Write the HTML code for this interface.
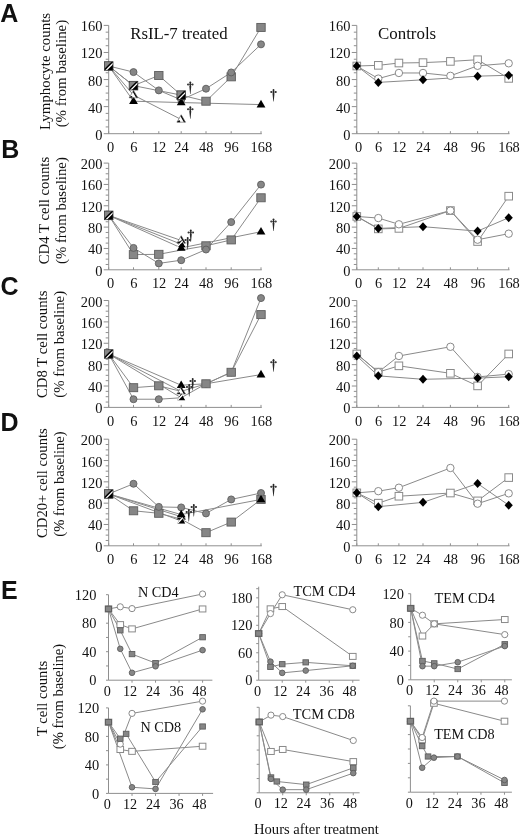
<!DOCTYPE html><html><head><meta charset="utf-8"><style>html,body{margin:0;padding:0;background:#fff;}svg{display:block;will-change:transform;}text{fill:#111;}</style></head><body><svg width="520" height="837" viewBox="0 0 520 837">
<rect width="520" height="837" fill="#fff"/>
<text x="0.2" y="21.8" font-family="'Liberation Sans', sans-serif" font-size="25" text-anchor="start" font-weight="bold" >A</text>
<text x="1.2" y="157.7" font-family="'Liberation Sans', sans-serif" font-size="25" text-anchor="start" font-weight="bold" >B</text>
<text x="0.6" y="294.6" font-family="'Liberation Sans', sans-serif" font-size="25" text-anchor="start" font-weight="bold" >C</text>
<text x="0.6" y="431.2" font-family="'Liberation Sans', sans-serif" font-size="25" text-anchor="start" font-weight="bold" >D</text>
<text x="1" y="598.7" font-family="'Liberation Sans', sans-serif" font-size="25" text-anchor="start" font-weight="bold" >E</text>
<line x1="108.7" y1="25.4" x2="108.7" y2="133.7" stroke="#8f8f8f" stroke-width="1"/>
<line x1="103.7" y1="133.7" x2="108.7" y2="133.7" stroke="#8f8f8f" stroke-width="1"/>
<text x="102.4" y="139.7" font-family="'Liberation Serif', serif" font-size="14.4" text-anchor="end" font-weight="normal" >0</text>
<line x1="105.7" y1="126.93" x2="108.7" y2="126.93" stroke="#8f8f8f" stroke-width="1"/>
<line x1="105.7" y1="120.16" x2="108.7" y2="120.16" stroke="#8f8f8f" stroke-width="1"/>
<line x1="105.7" y1="113.39" x2="108.7" y2="113.39" stroke="#8f8f8f" stroke-width="1"/>
<line x1="103.7" y1="106.62" x2="108.7" y2="106.62" stroke="#8f8f8f" stroke-width="1"/>
<text x="102.4" y="112.62" font-family="'Liberation Serif', serif" font-size="14.4" text-anchor="end" font-weight="normal" >40</text>
<line x1="105.7" y1="99.86" x2="108.7" y2="99.86" stroke="#8f8f8f" stroke-width="1"/>
<line x1="105.7" y1="93.09" x2="108.7" y2="93.09" stroke="#8f8f8f" stroke-width="1"/>
<line x1="105.7" y1="86.32" x2="108.7" y2="86.32" stroke="#8f8f8f" stroke-width="1"/>
<line x1="103.7" y1="79.55" x2="108.7" y2="79.55" stroke="#8f8f8f" stroke-width="1"/>
<text x="102.4" y="85.55" font-family="'Liberation Serif', serif" font-size="14.4" text-anchor="end" font-weight="normal" >80</text>
<line x1="105.7" y1="72.78" x2="108.7" y2="72.78" stroke="#8f8f8f" stroke-width="1"/>
<line x1="105.7" y1="66.01" x2="108.7" y2="66.01" stroke="#8f8f8f" stroke-width="1"/>
<line x1="105.7" y1="59.24" x2="108.7" y2="59.24" stroke="#8f8f8f" stroke-width="1"/>
<line x1="103.7" y1="52.47" x2="108.7" y2="52.47" stroke="#8f8f8f" stroke-width="1"/>
<text x="102.4" y="58.47" font-family="'Liberation Serif', serif" font-size="14.4" text-anchor="end" font-weight="normal" >120</text>
<line x1="105.7" y1="45.71" x2="108.7" y2="45.71" stroke="#8f8f8f" stroke-width="1"/>
<line x1="105.7" y1="38.94" x2="108.7" y2="38.94" stroke="#8f8f8f" stroke-width="1"/>
<line x1="105.7" y1="32.17" x2="108.7" y2="32.17" stroke="#8f8f8f" stroke-width="1"/>
<line x1="103.7" y1="25.4" x2="108.7" y2="25.4" stroke="#8f8f8f" stroke-width="1"/>
<text x="102.4" y="31.4" font-family="'Liberation Serif', serif" font-size="14.4" text-anchor="end" font-weight="normal" >160</text>
<line x1="108.7" y1="133.7" x2="261.8" y2="133.7" stroke="#8f8f8f" stroke-width="1"/>
<line x1="108.7" y1="133.7" x2="108.7" y2="131.2" stroke="#8f8f8f" stroke-width="1"/>
<text x="110.5" y="152.1" font-family="'Liberation Serif', serif" font-size="14.4" text-anchor="middle" font-weight="normal" >0</text>
<line x1="133.5" y1="133.7" x2="133.5" y2="131.2" stroke="#8f8f8f" stroke-width="1"/>
<text x="133.8" y="152.1" font-family="'Liberation Serif', serif" font-size="14.4" text-anchor="middle" font-weight="normal" >6</text>
<line x1="158.8" y1="133.7" x2="158.8" y2="131.2" stroke="#8f8f8f" stroke-width="1"/>
<text x="159.1" y="152.1" font-family="'Liberation Serif', serif" font-size="14.4" text-anchor="middle" font-weight="normal" >12</text>
<line x1="181.2" y1="133.7" x2="181.2" y2="131.2" stroke="#8f8f8f" stroke-width="1"/>
<text x="181.5" y="152.1" font-family="'Liberation Serif', serif" font-size="14.4" text-anchor="middle" font-weight="normal" >24</text>
<line x1="206" y1="133.7" x2="206" y2="131.2" stroke="#8f8f8f" stroke-width="1"/>
<text x="206.3" y="152.1" font-family="'Liberation Serif', serif" font-size="14.4" text-anchor="middle" font-weight="normal" >48</text>
<line x1="231.2" y1="133.7" x2="231.2" y2="131.2" stroke="#8f8f8f" stroke-width="1"/>
<text x="231.5" y="152.1" font-family="'Liberation Serif', serif" font-size="14.4" text-anchor="middle" font-weight="normal" >96</text>
<line x1="261" y1="133.7" x2="261" y2="131.2" stroke="#8f8f8f" stroke-width="1"/>
<text x="261.3" y="152.1" font-family="'Liberation Serif', serif" font-size="14.4" text-anchor="middle" font-weight="normal" >168</text>
<polyline points="108.7,66.01 133.5,85.64 158.8,75.49 181.2,95.12 206,101.21 231.2,76.84 261,27.43" fill="none" stroke="#8a8a8a" stroke-width="1"/>
<polyline points="108.7,66.01 133.5,72.1 158.8,90.38 181.2,99.86 206,88.69 231.2,72.44 261,44.35" fill="none" stroke="#8a8a8a" stroke-width="1"/>
<polyline points="108.7,66.01 133.5,85.64 181.2,95.12" fill="none" stroke="#8a8a8a" stroke-width="1"/>
<polyline points="108.7,66.01 133.5,95.12 181.2,119.49" fill="none" stroke="#8a8a8a" stroke-width="1"/>
<polyline points="108.7,66.01 133.5,101.21 181.2,102.56 261,104.59" fill="none" stroke="#8a8a8a" stroke-width="1"/>
<circle cx="133.5" cy="72.1" r="3.5" fill="#868686" stroke="#5e5e5e" stroke-width="0.9"/>
<circle cx="158.8" cy="90.38" r="3.5" fill="#868686" stroke="#5e5e5e" stroke-width="0.9"/>
<circle cx="181.2" cy="99.86" r="3.5" fill="#868686" stroke="#5e5e5e" stroke-width="0.9"/>
<circle cx="206" cy="88.69" r="3.5" fill="#868686" stroke="#5e5e5e" stroke-width="0.9"/>
<circle cx="261" cy="44.35" r="3.5" fill="#868686" stroke="#5e5e5e" stroke-width="0.9"/>
<rect x="154.6" y="71.49" width="8.4" height="8" fill="#868686" stroke="#5e5e5e" stroke-width="0.9"/>
<rect x="201.8" y="97.21" width="8.4" height="8" fill="#868686" stroke="#5e5e5e" stroke-width="0.9"/>
<rect x="227" y="72.84" width="8.4" height="8" fill="#868686" stroke="#5e5e5e" stroke-width="0.9"/>
<rect x="256.8" y="23.43" width="8.4" height="8" fill="#868686" stroke="#5e5e5e" stroke-width="0.9"/>
<circle cx="231.2" cy="72.44" r="3.5" fill="#868686" stroke="#5e5e5e" stroke-width="0.9"/>
<path d="M133.5 96.41L137.9 104.01L129.1 104.01Z" fill="#000"/>
<clipPath id="c1"><path d="M133.5 90.42L137.8 97.82L129.2 97.82Z"/></clipPath>
<g clip-path="url(#c1)"><path d="M133.5 90.42L137.8 97.82L129.2 97.82Z" fill="#fff"/><path d="M133.8 89.42L139.3 99.02" stroke="#000" stroke-width="4.2"/><path d="M128.2 98.42L132.4 97.22" stroke="#000" stroke-width="2.6"/></g>
<path d="M133.5 90.42L137.8 97.82L129.2 97.82Z" fill="none" stroke="#555" stroke-width="0.6"/>
<clipPath id="c2"><rect x="129.2" y="81.34" width="8.6" height="8.6"/></clipPath>
<g clip-path="url(#c2)"><rect x="129.2" y="81.34" width="8.6" height="8.6" fill="#868686"/><path d="M126.06 92.8L140.66 78.2" stroke="#000" stroke-width="1.6"/><path d="M127.08 93.82L141.68 79.22" stroke="#fff" stroke-width="1.3"/><path d="M129.03 95.77L143.63 81.17" stroke="#000" stroke-width="4.2"/></g>
<rect x="129.2" y="81.34" width="8.6" height="8.6" fill="none" stroke="#333" stroke-width="0.8"/>
<path d="M181.2 97.76L185.6 105.36L176.8 105.36Z" fill="#000"/>
<clipPath id="c3"><rect x="176.9" y="90.82" width="8.6" height="8.6"/></clipPath>
<g clip-path="url(#c3)"><rect x="176.9" y="90.82" width="8.6" height="8.6" fill="#868686"/><path d="M173.76 102.28L188.36 87.68" stroke="#000" stroke-width="1.6"/><path d="M174.78 103.3L189.38 88.7" stroke="#fff" stroke-width="1.3"/><path d="M176.73 105.25L191.33 90.65" stroke="#000" stroke-width="4.2"/></g>
<rect x="176.9" y="90.82" width="8.6" height="8.6" fill="none" stroke="#333" stroke-width="0.8"/>
<clipPath id="c4"><path d="M181.2 114.79L185.5 122.19L176.9 122.19Z"/></clipPath>
<g clip-path="url(#c4)"><path d="M181.2 114.79L185.5 122.19L176.9 122.19Z" fill="#fff"/><path d="M181.5 113.79L187 123.39" stroke="#000" stroke-width="4.2"/><path d="M175.9 122.79L180.1 121.59" stroke="#000" stroke-width="2.6"/></g>
<path d="M181.2 114.79L185.5 122.19L176.9 122.19Z" fill="none" stroke="#555" stroke-width="0.6"/>
<path d="M261 99.79L265.4 107.39L256.6 107.39Z" fill="#000"/>
<clipPath id="c5"><rect x="104.4" y="61.71" width="8.6" height="8.6"/></clipPath>
<g clip-path="url(#c5)"><rect x="104.4" y="61.71" width="8.6" height="8.6" fill="#868686"/><path d="M101.26 73.17L115.86 58.57" stroke="#000" stroke-width="1.6"/><path d="M102.28 74.19L116.88 59.59" stroke="#fff" stroke-width="1.3"/><path d="M104.23 76.14L118.83 61.54" stroke="#000" stroke-width="4.2"/></g>
<rect x="104.4" y="61.71" width="8.6" height="8.6" fill="none" stroke="#333" stroke-width="0.8"/>
<g fill="#262626"><ellipse cx="190.3" cy="82.6" rx="0.95" ry="1.2"/><ellipse cx="188.1" cy="84.5" rx="1.05" ry="0.95"/><ellipse cx="192.5" cy="84.5" rx="1.05" ry="0.95"/><rect x="188.1" y="84.05" width="4.4" height="0.9" fill="#555"/><path d="M189.75 83L190.85 83L190.85 85.1Q191.4 86.1 191.2 87.1L190.5 94L190.1 94L189.4 87.1Q189.2 86.1 189.75 85.1Z"/></g>
<g fill="#262626"><ellipse cx="190.3" cy="107.4" rx="0.95" ry="1.2"/><ellipse cx="188.1" cy="109.3" rx="1.05" ry="0.95"/><ellipse cx="192.5" cy="109.3" rx="1.05" ry="0.95"/><rect x="188.1" y="108.85" width="4.4" height="0.9" fill="#555"/><path d="M189.75 107.8L190.85 107.8L190.85 109.9Q191.4 110.9 191.2 111.9L190.5 118.8L190.1 118.8L189.4 111.9Q189.2 110.9 189.75 109.9Z"/></g>
<g fill="#262626"><ellipse cx="273.5" cy="90.1" rx="0.95" ry="1.2"/><ellipse cx="271.3" cy="92" rx="1.05" ry="0.95"/><ellipse cx="275.7" cy="92" rx="1.05" ry="0.95"/><rect x="271.3" y="91.55" width="4.4" height="0.9" fill="#555"/><path d="M272.95 90.5L274.05 90.5L274.05 92.6Q274.6 93.6 274.4 94.6L273.7 101.5L273.3 101.5L272.6 94.6Q272.4 93.6 272.95 92.6Z"/></g>
<line x1="356.8" y1="25.4" x2="356.8" y2="133.7" stroke="#8f8f8f" stroke-width="1"/>
<line x1="351.8" y1="133.7" x2="356.8" y2="133.7" stroke="#8f8f8f" stroke-width="1"/>
<text x="350.4" y="139.7" font-family="'Liberation Serif', serif" font-size="14.4" text-anchor="end" font-weight="normal" >0</text>
<line x1="353.8" y1="126.93" x2="356.8" y2="126.93" stroke="#8f8f8f" stroke-width="1"/>
<line x1="353.8" y1="120.16" x2="356.8" y2="120.16" stroke="#8f8f8f" stroke-width="1"/>
<line x1="353.8" y1="113.39" x2="356.8" y2="113.39" stroke="#8f8f8f" stroke-width="1"/>
<line x1="351.8" y1="106.62" x2="356.8" y2="106.62" stroke="#8f8f8f" stroke-width="1"/>
<text x="350.4" y="112.62" font-family="'Liberation Serif', serif" font-size="14.4" text-anchor="end" font-weight="normal" >40</text>
<line x1="353.8" y1="99.86" x2="356.8" y2="99.86" stroke="#8f8f8f" stroke-width="1"/>
<line x1="353.8" y1="93.09" x2="356.8" y2="93.09" stroke="#8f8f8f" stroke-width="1"/>
<line x1="353.8" y1="86.32" x2="356.8" y2="86.32" stroke="#8f8f8f" stroke-width="1"/>
<line x1="351.8" y1="79.55" x2="356.8" y2="79.55" stroke="#8f8f8f" stroke-width="1"/>
<text x="350.4" y="85.55" font-family="'Liberation Serif', serif" font-size="14.4" text-anchor="end" font-weight="normal" >80</text>
<line x1="353.8" y1="72.78" x2="356.8" y2="72.78" stroke="#8f8f8f" stroke-width="1"/>
<line x1="353.8" y1="66.01" x2="356.8" y2="66.01" stroke="#8f8f8f" stroke-width="1"/>
<line x1="353.8" y1="59.24" x2="356.8" y2="59.24" stroke="#8f8f8f" stroke-width="1"/>
<line x1="351.8" y1="52.47" x2="356.8" y2="52.47" stroke="#8f8f8f" stroke-width="1"/>
<text x="350.4" y="58.47" font-family="'Liberation Serif', serif" font-size="14.4" text-anchor="end" font-weight="normal" >120</text>
<line x1="353.8" y1="45.71" x2="356.8" y2="45.71" stroke="#8f8f8f" stroke-width="1"/>
<line x1="353.8" y1="38.94" x2="356.8" y2="38.94" stroke="#8f8f8f" stroke-width="1"/>
<line x1="353.8" y1="32.17" x2="356.8" y2="32.17" stroke="#8f8f8f" stroke-width="1"/>
<line x1="351.8" y1="25.4" x2="356.8" y2="25.4" stroke="#8f8f8f" stroke-width="1"/>
<text x="350.4" y="31.4" font-family="'Liberation Serif', serif" font-size="14.4" text-anchor="end" font-weight="normal" >160</text>
<line x1="356.8" y1="133.7" x2="509.5" y2="133.7" stroke="#8f8f8f" stroke-width="1"/>
<line x1="356.8" y1="133.7" x2="356.8" y2="131.2" stroke="#8f8f8f" stroke-width="1"/>
<text x="358.6" y="152.1" font-family="'Liberation Serif', serif" font-size="14.4" text-anchor="middle" font-weight="normal" >0</text>
<line x1="378.3" y1="133.7" x2="378.3" y2="131.2" stroke="#8f8f8f" stroke-width="1"/>
<text x="378.6" y="152.1" font-family="'Liberation Serif', serif" font-size="14.4" text-anchor="middle" font-weight="normal" >6</text>
<line x1="398.9" y1="133.7" x2="398.9" y2="131.2" stroke="#8f8f8f" stroke-width="1"/>
<text x="399.2" y="152.1" font-family="'Liberation Serif', serif" font-size="14.4" text-anchor="middle" font-weight="normal" >12</text>
<line x1="423" y1="133.7" x2="423" y2="131.2" stroke="#8f8f8f" stroke-width="1"/>
<text x="423.3" y="152.1" font-family="'Liberation Serif', serif" font-size="14.4" text-anchor="middle" font-weight="normal" >24</text>
<line x1="450.4" y1="133.7" x2="450.4" y2="131.2" stroke="#8f8f8f" stroke-width="1"/>
<text x="450.7" y="152.1" font-family="'Liberation Serif', serif" font-size="14.4" text-anchor="middle" font-weight="normal" >48</text>
<line x1="477.6" y1="133.7" x2="477.6" y2="131.2" stroke="#8f8f8f" stroke-width="1"/>
<text x="477.9" y="152.1" font-family="'Liberation Serif', serif" font-size="14.4" text-anchor="middle" font-weight="normal" >96</text>
<line x1="508.7" y1="133.7" x2="508.7" y2="131.2" stroke="#8f8f8f" stroke-width="1"/>
<text x="509" y="152.1" font-family="'Liberation Serif', serif" font-size="14.4" text-anchor="middle" font-weight="normal" >168</text>
<polyline points="356.8,66.01 378.3,65.34 398.9,63.03 423,62.63 450.4,61.41 477.6,59.72 508.7,78.4" fill="none" stroke="#8a8a8a" stroke-width="1"/>
<polyline points="356.8,66.01 378.3,78.6 398.9,72.98 423,72.98 450.4,75.83 477.6,65.81 508.7,63.31" fill="none" stroke="#8a8a8a" stroke-width="1"/>
<polyline points="356.8,66.01 378.3,82.39 423,79.82 477.6,76.17 508.7,75.29" fill="none" stroke="#8a8a8a" stroke-width="1"/>
<rect x="374.5" y="61.54" width="7.6" height="7.6" fill="#fff" stroke="#8a8a8a" stroke-width="1"/>
<rect x="395.1" y="59.23" width="7.6" height="7.6" fill="#fff" stroke="#8a8a8a" stroke-width="1"/>
<rect x="419.2" y="58.83" width="7.6" height="7.6" fill="#fff" stroke="#8a8a8a" stroke-width="1"/>
<rect x="446.6" y="57.61" width="7.6" height="7.6" fill="#fff" stroke="#8a8a8a" stroke-width="1"/>
<rect x="473.8" y="55.92" width="7.6" height="7.6" fill="#fff" stroke="#8a8a8a" stroke-width="1"/>
<rect x="504.9" y="74.6" width="7.6" height="7.6" fill="#fff" stroke="#8a8a8a" stroke-width="1"/>
<circle cx="378.3" cy="78.6" r="3.7" fill="#fff" stroke="#8a8a8a" stroke-width="1"/>
<circle cx="398.9" cy="72.98" r="3.7" fill="#fff" stroke="#8a8a8a" stroke-width="1"/>
<circle cx="423" cy="72.98" r="3.7" fill="#fff" stroke="#8a8a8a" stroke-width="1"/>
<circle cx="450.4" cy="75.83" r="3.7" fill="#fff" stroke="#8a8a8a" stroke-width="1"/>
<circle cx="477.6" cy="65.81" r="3.7" fill="#fff" stroke="#8a8a8a" stroke-width="1"/>
<circle cx="508.7" cy="63.31" r="3.7" fill="#fff" stroke="#8a8a8a" stroke-width="1"/>
<path d="M378.3 77.89L382.4 82.39L378.3 86.89L374.2 82.39Z" fill="#000"/>
<path d="M423 75.32L427.1 79.82L423 84.32L418.9 79.82Z" fill="#000"/>
<path d="M477.6 71.67L481.7 76.17L477.6 80.67L473.5 76.17Z" fill="#000"/>
<path d="M508.7 70.79L512.8 75.29L508.7 79.79L504.6 75.29Z" fill="#000"/>
<rect x="353" y="62.21" width="7.6" height="7.6" fill="#fff" stroke="#8a8a8a" stroke-width="1"/>
<path d="M356.8 61.51L360.9 66.01L356.8 70.51L352.7 66.01Z" fill="#000"/>
<text x="130.2" y="38.5" font-family="'Liberation Serif', serif" font-size="16.8" text-anchor="start" font-weight="normal" >RsIL-7 treated</text>
<text x="378" y="38.8" font-family="'Liberation Serif', serif" font-size="16.9" text-anchor="start" font-weight="normal" >Controls</text>
<line x1="108.7" y1="163.1" x2="108.7" y2="269.8" stroke="#8f8f8f" stroke-width="1"/>
<line x1="103.7" y1="269.8" x2="108.7" y2="269.8" stroke="#8f8f8f" stroke-width="1"/>
<text x="102.4" y="275.8" font-family="'Liberation Serif', serif" font-size="14.4" text-anchor="end" font-weight="normal" >0</text>
<line x1="105.7" y1="264.47" x2="108.7" y2="264.47" stroke="#8f8f8f" stroke-width="1"/>
<line x1="105.7" y1="259.13" x2="108.7" y2="259.13" stroke="#8f8f8f" stroke-width="1"/>
<line x1="105.7" y1="253.8" x2="108.7" y2="253.8" stroke="#8f8f8f" stroke-width="1"/>
<line x1="103.7" y1="248.46" x2="108.7" y2="248.46" stroke="#8f8f8f" stroke-width="1"/>
<text x="102.4" y="254.46" font-family="'Liberation Serif', serif" font-size="14.4" text-anchor="end" font-weight="normal" >40</text>
<line x1="105.7" y1="243.12" x2="108.7" y2="243.12" stroke="#8f8f8f" stroke-width="1"/>
<line x1="105.7" y1="237.79" x2="108.7" y2="237.79" stroke="#8f8f8f" stroke-width="1"/>
<line x1="105.7" y1="232.46" x2="108.7" y2="232.46" stroke="#8f8f8f" stroke-width="1"/>
<line x1="103.7" y1="227.12" x2="108.7" y2="227.12" stroke="#8f8f8f" stroke-width="1"/>
<text x="102.4" y="233.12" font-family="'Liberation Serif', serif" font-size="14.4" text-anchor="end" font-weight="normal" >80</text>
<line x1="105.7" y1="221.78" x2="108.7" y2="221.78" stroke="#8f8f8f" stroke-width="1"/>
<line x1="105.7" y1="216.45" x2="108.7" y2="216.45" stroke="#8f8f8f" stroke-width="1"/>
<line x1="105.7" y1="211.12" x2="108.7" y2="211.12" stroke="#8f8f8f" stroke-width="1"/>
<line x1="103.7" y1="205.78" x2="108.7" y2="205.78" stroke="#8f8f8f" stroke-width="1"/>
<text x="102.4" y="211.78" font-family="'Liberation Serif', serif" font-size="14.4" text-anchor="end" font-weight="normal" >120</text>
<line x1="105.7" y1="200.44" x2="108.7" y2="200.44" stroke="#8f8f8f" stroke-width="1"/>
<line x1="105.7" y1="195.11" x2="108.7" y2="195.11" stroke="#8f8f8f" stroke-width="1"/>
<line x1="105.7" y1="189.78" x2="108.7" y2="189.78" stroke="#8f8f8f" stroke-width="1"/>
<line x1="103.7" y1="184.44" x2="108.7" y2="184.44" stroke="#8f8f8f" stroke-width="1"/>
<text x="102.4" y="190.44" font-family="'Liberation Serif', serif" font-size="14.4" text-anchor="end" font-weight="normal" >160</text>
<line x1="105.7" y1="179.1" x2="108.7" y2="179.1" stroke="#8f8f8f" stroke-width="1"/>
<line x1="105.7" y1="173.77" x2="108.7" y2="173.77" stroke="#8f8f8f" stroke-width="1"/>
<line x1="105.7" y1="168.44" x2="108.7" y2="168.44" stroke="#8f8f8f" stroke-width="1"/>
<line x1="103.7" y1="163.1" x2="108.7" y2="163.1" stroke="#8f8f8f" stroke-width="1"/>
<text x="102.4" y="169.1" font-family="'Liberation Serif', serif" font-size="14.4" text-anchor="end" font-weight="normal" >200</text>
<line x1="108.7" y1="269.8" x2="261.8" y2="269.8" stroke="#8f8f8f" stroke-width="1"/>
<line x1="108.7" y1="269.8" x2="108.7" y2="267.3" stroke="#8f8f8f" stroke-width="1"/>
<text x="110.5" y="288.2" font-family="'Liberation Serif', serif" font-size="14.4" text-anchor="middle" font-weight="normal" >0</text>
<line x1="133.5" y1="269.8" x2="133.5" y2="267.3" stroke="#8f8f8f" stroke-width="1"/>
<text x="133.8" y="288.2" font-family="'Liberation Serif', serif" font-size="14.4" text-anchor="middle" font-weight="normal" >6</text>
<line x1="158.8" y1="269.8" x2="158.8" y2="267.3" stroke="#8f8f8f" stroke-width="1"/>
<text x="159.1" y="288.2" font-family="'Liberation Serif', serif" font-size="14.4" text-anchor="middle" font-weight="normal" >12</text>
<line x1="181.2" y1="269.8" x2="181.2" y2="267.3" stroke="#8f8f8f" stroke-width="1"/>
<text x="181.5" y="288.2" font-family="'Liberation Serif', serif" font-size="14.4" text-anchor="middle" font-weight="normal" >24</text>
<line x1="206" y1="269.8" x2="206" y2="267.3" stroke="#8f8f8f" stroke-width="1"/>
<text x="206.3" y="288.2" font-family="'Liberation Serif', serif" font-size="14.4" text-anchor="middle" font-weight="normal" >48</text>
<line x1="231.2" y1="269.8" x2="231.2" y2="267.3" stroke="#8f8f8f" stroke-width="1"/>
<text x="231.5" y="288.2" font-family="'Liberation Serif', serif" font-size="14.4" text-anchor="middle" font-weight="normal" >96</text>
<line x1="261" y1="269.8" x2="261" y2="267.3" stroke="#8f8f8f" stroke-width="1"/>
<text x="261.3" y="288.2" font-family="'Liberation Serif', serif" font-size="14.4" text-anchor="middle" font-weight="normal" >168</text>
<polyline points="108.7,215.38 133.5,254.6 158.8,254.33 181.2,250.06 206,245.79 231.2,239.92 261,197.78" fill="none" stroke="#8a8a8a" stroke-width="1"/>
<polyline points="108.7,215.38 133.5,247.93 158.8,263.4 181.2,260.2 206,249.53 231.2,222.11 261,184.6" fill="none" stroke="#8a8a8a" stroke-width="1"/>
<polyline points="108.7,215.38 181.2,247.93 261,231.71" fill="none" stroke="#8a8a8a" stroke-width="1"/>
<polyline points="108.7,215.38 181.2,240.46" fill="none" stroke="#8a8a8a" stroke-width="1"/>
<polyline points="108.7,215.38 181.2,244.19" fill="none" stroke="#8a8a8a" stroke-width="1"/>
<rect x="129.3" y="250.6" width="8.4" height="8" fill="#868686" stroke="#5e5e5e" stroke-width="0.9"/>
<circle cx="133.5" cy="247.93" r="3.5" fill="#868686" stroke="#5e5e5e" stroke-width="0.9"/>
<rect x="154.6" y="250.33" width="8.4" height="8" fill="#868686" stroke="#5e5e5e" stroke-width="0.9"/>
<circle cx="158.8" cy="263.4" r="3.5" fill="#868686" stroke="#5e5e5e" stroke-width="0.9"/>
<circle cx="181.2" cy="260.2" r="3.5" fill="#868686" stroke="#5e5e5e" stroke-width="0.9"/>
<rect x="201.8" y="241.79" width="8.4" height="8" fill="#868686" stroke="#5e5e5e" stroke-width="0.9"/>
<circle cx="206" cy="249.53" r="3.5" fill="#868686" stroke="#5e5e5e" stroke-width="0.9"/>
<circle cx="231.2" cy="222.11" r="3.5" fill="#868686" stroke="#5e5e5e" stroke-width="0.9"/>
<rect x="227" y="235.92" width="8.4" height="8" fill="#868686" stroke="#5e5e5e" stroke-width="0.9"/>
<circle cx="261" cy="184.6" r="3.5" fill="#868686" stroke="#5e5e5e" stroke-width="0.9"/>
<rect x="256.8" y="193.78" width="8.4" height="8" fill="#868686" stroke="#5e5e5e" stroke-width="0.9"/>
<clipPath id="c6"><path d="M181.2 235.76L185.5 243.16L176.9 243.16Z"/></clipPath>
<g clip-path="url(#c6)"><path d="M181.2 235.76L185.5 243.16L176.9 243.16Z" fill="#fff"/><path d="M181.5 234.76L187 244.36" stroke="#000" stroke-width="4.2"/><path d="M175.9 243.76L180.1 242.56" stroke="#000" stroke-width="2.6"/></g>
<path d="M181.2 235.76L185.5 243.16L176.9 243.16Z" fill="none" stroke="#555" stroke-width="0.6"/>
<clipPath id="c7"><path d="M181.2 239.49L185.5 246.89L176.9 246.89Z"/></clipPath>
<g clip-path="url(#c7)"><path d="M181.2 239.49L185.5 246.89L176.9 246.89Z" fill="#000"/><path d="M175.9 248.09L183.4 240.29" stroke="#fff" stroke-width="1.5"/></g>
<path d="M181.2 243.13L185.6 250.73L176.8 250.73Z" fill="#000"/>
<path d="M261 226.91L265.4 234.51L256.6 234.51Z" fill="#000"/>
<clipPath id="c8"><rect x="104.4" y="211.08" width="8.6" height="8.6"/></clipPath>
<g clip-path="url(#c8)"><rect x="104.4" y="211.08" width="8.6" height="8.6" fill="#868686"/><path d="M101.26 222.54L115.86 207.94" stroke="#000" stroke-width="1.6"/><path d="M102.28 223.56L116.88 208.96" stroke="#fff" stroke-width="1.3"/><path d="M104.23 225.51L118.83 210.91" stroke="#000" stroke-width="4.2"/></g>
<rect x="104.4" y="211.08" width="8.6" height="8.6" fill="none" stroke="#333" stroke-width="0.8"/>
<g fill="#262626"><ellipse cx="187.7" cy="238.1" rx="0.95" ry="1.2"/><ellipse cx="185.5" cy="240" rx="1.05" ry="0.95"/><ellipse cx="189.9" cy="240" rx="1.05" ry="0.95"/><rect x="185.5" y="239.55" width="4.4" height="0.9" fill="#555"/><path d="M187.15 238.5L188.25 238.5L188.25 240.6Q188.8 241.6 188.6 242.6L187.9 249.5L187.5 249.5L186.8 242.6Q186.6 241.6 187.15 240.6Z"/></g>
<g fill="#262626"><ellipse cx="190.8" cy="230.6" rx="0.95" ry="1.2"/><ellipse cx="188.6" cy="232.5" rx="1.05" ry="0.95"/><ellipse cx="193" cy="232.5" rx="1.05" ry="0.95"/><rect x="188.6" y="232.05" width="4.4" height="0.9" fill="#555"/><path d="M190.25 231L191.35 231L191.35 233.1Q191.9 234.1 191.7 235.1L191 242L190.6 242L189.9 235.1Q189.7 234.1 190.25 233.1Z"/></g>
<g fill="#262626"><ellipse cx="273.5" cy="219.6" rx="0.95" ry="1.2"/><ellipse cx="271.3" cy="221.5" rx="1.05" ry="0.95"/><ellipse cx="275.7" cy="221.5" rx="1.05" ry="0.95"/><rect x="271.3" y="221.05" width="4.4" height="0.9" fill="#555"/><path d="M272.95 220L274.05 220L274.05 222.1Q274.6 223.1 274.4 224.1L273.7 231L273.3 231L272.6 224.1Q272.4 223.1 272.95 222.1Z"/></g>
<line x1="356.8" y1="163.1" x2="356.8" y2="269.8" stroke="#8f8f8f" stroke-width="1"/>
<line x1="351.8" y1="269.8" x2="356.8" y2="269.8" stroke="#8f8f8f" stroke-width="1"/>
<text x="350.4" y="275.8" font-family="'Liberation Serif', serif" font-size="14.4" text-anchor="end" font-weight="normal" >0</text>
<line x1="353.8" y1="264.47" x2="356.8" y2="264.47" stroke="#8f8f8f" stroke-width="1"/>
<line x1="353.8" y1="259.13" x2="356.8" y2="259.13" stroke="#8f8f8f" stroke-width="1"/>
<line x1="353.8" y1="253.8" x2="356.8" y2="253.8" stroke="#8f8f8f" stroke-width="1"/>
<line x1="351.8" y1="248.46" x2="356.8" y2="248.46" stroke="#8f8f8f" stroke-width="1"/>
<text x="350.4" y="254.46" font-family="'Liberation Serif', serif" font-size="14.4" text-anchor="end" font-weight="normal" >40</text>
<line x1="353.8" y1="243.12" x2="356.8" y2="243.12" stroke="#8f8f8f" stroke-width="1"/>
<line x1="353.8" y1="237.79" x2="356.8" y2="237.79" stroke="#8f8f8f" stroke-width="1"/>
<line x1="353.8" y1="232.46" x2="356.8" y2="232.46" stroke="#8f8f8f" stroke-width="1"/>
<line x1="351.8" y1="227.12" x2="356.8" y2="227.12" stroke="#8f8f8f" stroke-width="1"/>
<text x="350.4" y="233.12" font-family="'Liberation Serif', serif" font-size="14.4" text-anchor="end" font-weight="normal" >80</text>
<line x1="353.8" y1="221.78" x2="356.8" y2="221.78" stroke="#8f8f8f" stroke-width="1"/>
<line x1="353.8" y1="216.45" x2="356.8" y2="216.45" stroke="#8f8f8f" stroke-width="1"/>
<line x1="353.8" y1="211.12" x2="356.8" y2="211.12" stroke="#8f8f8f" stroke-width="1"/>
<line x1="351.8" y1="205.78" x2="356.8" y2="205.78" stroke="#8f8f8f" stroke-width="1"/>
<text x="350.4" y="211.78" font-family="'Liberation Serif', serif" font-size="14.4" text-anchor="end" font-weight="normal" >120</text>
<line x1="353.8" y1="200.44" x2="356.8" y2="200.44" stroke="#8f8f8f" stroke-width="1"/>
<line x1="353.8" y1="195.11" x2="356.8" y2="195.11" stroke="#8f8f8f" stroke-width="1"/>
<line x1="353.8" y1="189.78" x2="356.8" y2="189.78" stroke="#8f8f8f" stroke-width="1"/>
<line x1="351.8" y1="184.44" x2="356.8" y2="184.44" stroke="#8f8f8f" stroke-width="1"/>
<text x="350.4" y="190.44" font-family="'Liberation Serif', serif" font-size="14.4" text-anchor="end" font-weight="normal" >160</text>
<line x1="353.8" y1="179.1" x2="356.8" y2="179.1" stroke="#8f8f8f" stroke-width="1"/>
<line x1="353.8" y1="173.77" x2="356.8" y2="173.77" stroke="#8f8f8f" stroke-width="1"/>
<line x1="353.8" y1="168.44" x2="356.8" y2="168.44" stroke="#8f8f8f" stroke-width="1"/>
<line x1="351.8" y1="163.1" x2="356.8" y2="163.1" stroke="#8f8f8f" stroke-width="1"/>
<text x="350.4" y="169.1" font-family="'Liberation Serif', serif" font-size="14.4" text-anchor="end" font-weight="normal" >200</text>
<line x1="356.8" y1="269.8" x2="509.5" y2="269.8" stroke="#8f8f8f" stroke-width="1"/>
<line x1="356.8" y1="269.8" x2="356.8" y2="267.3" stroke="#8f8f8f" stroke-width="1"/>
<text x="358.6" y="288.2" font-family="'Liberation Serif', serif" font-size="14.4" text-anchor="middle" font-weight="normal" >0</text>
<line x1="378.3" y1="269.8" x2="378.3" y2="267.3" stroke="#8f8f8f" stroke-width="1"/>
<text x="378.6" y="288.2" font-family="'Liberation Serif', serif" font-size="14.4" text-anchor="middle" font-weight="normal" >6</text>
<line x1="398.9" y1="269.8" x2="398.9" y2="267.3" stroke="#8f8f8f" stroke-width="1"/>
<text x="399.2" y="288.2" font-family="'Liberation Serif', serif" font-size="14.4" text-anchor="middle" font-weight="normal" >12</text>
<line x1="423" y1="269.8" x2="423" y2="267.3" stroke="#8f8f8f" stroke-width="1"/>
<text x="423.3" y="288.2" font-family="'Liberation Serif', serif" font-size="14.4" text-anchor="middle" font-weight="normal" >24</text>
<line x1="450.4" y1="269.8" x2="450.4" y2="267.3" stroke="#8f8f8f" stroke-width="1"/>
<text x="450.7" y="288.2" font-family="'Liberation Serif', serif" font-size="14.4" text-anchor="middle" font-weight="normal" >48</text>
<line x1="477.6" y1="269.8" x2="477.6" y2="267.3" stroke="#8f8f8f" stroke-width="1"/>
<text x="477.9" y="288.2" font-family="'Liberation Serif', serif" font-size="14.4" text-anchor="middle" font-weight="normal" >96</text>
<line x1="508.7" y1="269.8" x2="508.7" y2="267.3" stroke="#8f8f8f" stroke-width="1"/>
<text x="509" y="288.2" font-family="'Liberation Serif', serif" font-size="14.4" text-anchor="middle" font-weight="normal" >168</text>
<polyline points="356.8,216.45 378.3,228.88 398.9,228.4 450.4,210.58 477.6,241.52 508.7,196.18" fill="none" stroke="#8a8a8a" stroke-width="1"/>
<polyline points="356.8,216.45 378.3,218.05 398.9,224.29 450.4,210.58 477.6,239.71 508.7,233.68" fill="none" stroke="#8a8a8a" stroke-width="1"/>
<polyline points="356.8,216.45 378.3,228.4 423,226.69 477.6,231.12 508.7,217.73" fill="none" stroke="#8a8a8a" stroke-width="1"/>
<rect x="374.5" y="225.08" width="7.6" height="7.6" fill="#fff" stroke="#8a8a8a" stroke-width="1"/>
<rect x="395.1" y="224.6" width="7.6" height="7.6" fill="#fff" stroke="#8a8a8a" stroke-width="1"/>
<rect x="446.6" y="206.78" width="7.6" height="7.6" fill="#fff" stroke="#8a8a8a" stroke-width="1"/>
<rect x="473.8" y="237.72" width="7.6" height="7.6" fill="#fff" stroke="#8a8a8a" stroke-width="1"/>
<rect x="504.9" y="192.38" width="7.6" height="7.6" fill="#fff" stroke="#8a8a8a" stroke-width="1"/>
<circle cx="378.3" cy="218.05" r="3.7" fill="#fff" stroke="#8a8a8a" stroke-width="1"/>
<circle cx="398.9" cy="224.29" r="3.7" fill="#fff" stroke="#8a8a8a" stroke-width="1"/>
<circle cx="450.4" cy="210.58" r="3.7" fill="#fff" stroke="#8a8a8a" stroke-width="1"/>
<circle cx="477.6" cy="239.71" r="3.7" fill="#fff" stroke="#8a8a8a" stroke-width="1"/>
<circle cx="508.7" cy="233.68" r="3.7" fill="#fff" stroke="#8a8a8a" stroke-width="1"/>
<path d="M378.3 223.9L382.4 228.4L378.3 232.9L374.2 228.4Z" fill="#000"/>
<path d="M423 222.19L427.1 226.69L423 231.19L418.9 226.69Z" fill="#000"/>
<path d="M477.6 226.62L481.7 231.12L477.6 235.62L473.5 231.12Z" fill="#000"/>
<path d="M508.7 213.23L512.8 217.73L508.7 222.23L504.6 217.73Z" fill="#000"/>
<rect x="353" y="212.65" width="7.6" height="7.6" fill="#fff" stroke="#8a8a8a" stroke-width="1"/>
<path d="M356.8 211.95L360.9 216.45L356.8 220.95L352.7 216.45Z" fill="#000"/>
<line x1="108.7" y1="300.5" x2="108.7" y2="407.4" stroke="#8f8f8f" stroke-width="1"/>
<line x1="103.7" y1="407.4" x2="108.7" y2="407.4" stroke="#8f8f8f" stroke-width="1"/>
<text x="102.4" y="413.4" font-family="'Liberation Serif', serif" font-size="14.4" text-anchor="end" font-weight="normal" >0</text>
<line x1="105.7" y1="402.05" x2="108.7" y2="402.05" stroke="#8f8f8f" stroke-width="1"/>
<line x1="105.7" y1="396.71" x2="108.7" y2="396.71" stroke="#8f8f8f" stroke-width="1"/>
<line x1="105.7" y1="391.37" x2="108.7" y2="391.37" stroke="#8f8f8f" stroke-width="1"/>
<line x1="103.7" y1="386.02" x2="108.7" y2="386.02" stroke="#8f8f8f" stroke-width="1"/>
<text x="102.4" y="392.02" font-family="'Liberation Serif', serif" font-size="14.4" text-anchor="end" font-weight="normal" >40</text>
<line x1="105.7" y1="380.67" x2="108.7" y2="380.67" stroke="#8f8f8f" stroke-width="1"/>
<line x1="105.7" y1="375.33" x2="108.7" y2="375.33" stroke="#8f8f8f" stroke-width="1"/>
<line x1="105.7" y1="369.99" x2="108.7" y2="369.99" stroke="#8f8f8f" stroke-width="1"/>
<line x1="103.7" y1="364.64" x2="108.7" y2="364.64" stroke="#8f8f8f" stroke-width="1"/>
<text x="102.4" y="370.64" font-family="'Liberation Serif', serif" font-size="14.4" text-anchor="end" font-weight="normal" >80</text>
<line x1="105.7" y1="359.29" x2="108.7" y2="359.29" stroke="#8f8f8f" stroke-width="1"/>
<line x1="105.7" y1="353.95" x2="108.7" y2="353.95" stroke="#8f8f8f" stroke-width="1"/>
<line x1="105.7" y1="348.61" x2="108.7" y2="348.61" stroke="#8f8f8f" stroke-width="1"/>
<line x1="103.7" y1="343.26" x2="108.7" y2="343.26" stroke="#8f8f8f" stroke-width="1"/>
<text x="102.4" y="349.26" font-family="'Liberation Serif', serif" font-size="14.4" text-anchor="end" font-weight="normal" >120</text>
<line x1="105.7" y1="337.91" x2="108.7" y2="337.91" stroke="#8f8f8f" stroke-width="1"/>
<line x1="105.7" y1="332.57" x2="108.7" y2="332.57" stroke="#8f8f8f" stroke-width="1"/>
<line x1="105.7" y1="327.23" x2="108.7" y2="327.23" stroke="#8f8f8f" stroke-width="1"/>
<line x1="103.7" y1="321.88" x2="108.7" y2="321.88" stroke="#8f8f8f" stroke-width="1"/>
<text x="102.4" y="327.88" font-family="'Liberation Serif', serif" font-size="14.4" text-anchor="end" font-weight="normal" >160</text>
<line x1="105.7" y1="316.53" x2="108.7" y2="316.53" stroke="#8f8f8f" stroke-width="1"/>
<line x1="105.7" y1="311.19" x2="108.7" y2="311.19" stroke="#8f8f8f" stroke-width="1"/>
<line x1="105.7" y1="305.85" x2="108.7" y2="305.85" stroke="#8f8f8f" stroke-width="1"/>
<line x1="103.7" y1="300.5" x2="108.7" y2="300.5" stroke="#8f8f8f" stroke-width="1"/>
<text x="102.4" y="306.5" font-family="'Liberation Serif', serif" font-size="14.4" text-anchor="end" font-weight="normal" >200</text>
<line x1="108.7" y1="407.4" x2="261.8" y2="407.4" stroke="#8f8f8f" stroke-width="1"/>
<line x1="108.7" y1="407.4" x2="108.7" y2="404.9" stroke="#8f8f8f" stroke-width="1"/>
<text x="110.5" y="425.8" font-family="'Liberation Serif', serif" font-size="14.4" text-anchor="middle" font-weight="normal" >0</text>
<line x1="133.5" y1="407.4" x2="133.5" y2="404.9" stroke="#8f8f8f" stroke-width="1"/>
<text x="133.8" y="425.8" font-family="'Liberation Serif', serif" font-size="14.4" text-anchor="middle" font-weight="normal" >6</text>
<line x1="158.8" y1="407.4" x2="158.8" y2="404.9" stroke="#8f8f8f" stroke-width="1"/>
<text x="159.1" y="425.8" font-family="'Liberation Serif', serif" font-size="14.4" text-anchor="middle" font-weight="normal" >12</text>
<line x1="181.2" y1="407.4" x2="181.2" y2="404.9" stroke="#8f8f8f" stroke-width="1"/>
<text x="181.5" y="425.8" font-family="'Liberation Serif', serif" font-size="14.4" text-anchor="middle" font-weight="normal" >24</text>
<line x1="206" y1="407.4" x2="206" y2="404.9" stroke="#8f8f8f" stroke-width="1"/>
<text x="206.3" y="425.8" font-family="'Liberation Serif', serif" font-size="14.4" text-anchor="middle" font-weight="normal" >48</text>
<line x1="231.2" y1="407.4" x2="231.2" y2="404.9" stroke="#8f8f8f" stroke-width="1"/>
<text x="231.5" y="425.8" font-family="'Liberation Serif', serif" font-size="14.4" text-anchor="middle" font-weight="normal" >96</text>
<line x1="261" y1="407.4" x2="261" y2="404.9" stroke="#8f8f8f" stroke-width="1"/>
<text x="261.3" y="425.8" font-family="'Liberation Serif', serif" font-size="14.4" text-anchor="middle" font-weight="normal" >168</text>
<polyline points="108.7,353.95 133.5,387.68 158.8,385.81 181.2,391.37 206,383.78 231.2,372.28 261,314.61" fill="none" stroke="#8a8a8a" stroke-width="1"/>
<polyline points="108.7,353.95 133.5,399.22 158.8,399.22 181.2,397.78 206,383.78 231.2,372.28 261,298.09" fill="none" stroke="#8a8a8a" stroke-width="1"/>
<polyline points="108.7,353.95 181.2,385.22 206,383.78 261,374.58" fill="none" stroke="#8a8a8a" stroke-width="1"/>
<polyline points="108.7,353.95 181.2,391.37" fill="none" stroke="#8a8a8a" stroke-width="1"/>
<polyline points="108.7,353.95 181.2,397.78" fill="none" stroke="#8a8a8a" stroke-width="1"/>
<rect x="129.3" y="383.68" width="8.4" height="8" fill="#868686" stroke="#5e5e5e" stroke-width="0.9"/>
<circle cx="133.5" cy="399.22" r="3.5" fill="#868686" stroke="#5e5e5e" stroke-width="0.9"/>
<rect x="154.6" y="381.81" width="8.4" height="8" fill="#868686" stroke="#5e5e5e" stroke-width="0.9"/>
<circle cx="158.8" cy="399.22" r="3.5" fill="#868686" stroke="#5e5e5e" stroke-width="0.9"/>
<circle cx="206" cy="383.78" r="3.5" fill="#868686" stroke="#5e5e5e" stroke-width="0.9"/>
<rect x="201.8" y="379.78" width="8.4" height="8" fill="#868686" stroke="#5e5e5e" stroke-width="0.9"/>
<circle cx="231.2" cy="372.28" r="3.5" fill="#868686" stroke="#5e5e5e" stroke-width="0.9"/>
<rect x="227" y="368.28" width="8.4" height="8" fill="#868686" stroke="#5e5e5e" stroke-width="0.9"/>
<circle cx="261" cy="298.09" r="3.5" fill="#868686" stroke="#5e5e5e" stroke-width="0.9"/>
<rect x="256.8" y="310.61" width="8.4" height="8" fill="#868686" stroke="#5e5e5e" stroke-width="0.9"/>
<path d="M181.2 380.42L185.6 388.02L176.8 388.02Z" fill="#000"/>
<clipPath id="c9"><path d="M181.2 386.67L185.5 394.06L176.9 394.06Z"/></clipPath>
<g clip-path="url(#c9)"><path d="M181.2 386.67L185.5 394.06L176.9 394.06Z" fill="#fff"/><path d="M181.5 385.67L187 395.26" stroke="#000" stroke-width="4.2"/><path d="M175.9 394.67L180.1 393.46" stroke="#000" stroke-width="2.6"/></g>
<path d="M181.2 386.67L185.5 394.06L176.9 394.06Z" fill="none" stroke="#555" stroke-width="0.6"/>
<clipPath id="c10"><path d="M181.2 393.08L185.5 400.48L176.9 400.48Z"/></clipPath>
<g clip-path="url(#c10)"><path d="M181.2 393.08L185.5 400.48L176.9 400.48Z" fill="#000"/><path d="M175.9 401.68L183.4 393.88" stroke="#fff" stroke-width="1.5"/></g>
<path d="M261 369.78L265.4 377.38L256.6 377.38Z" fill="#000"/>
<clipPath id="c11"><rect x="104.4" y="349.65" width="8.6" height="8.6"/></clipPath>
<g clip-path="url(#c11)"><rect x="104.4" y="349.65" width="8.6" height="8.6" fill="#868686"/><path d="M101.26 361.11L115.86 346.51" stroke="#000" stroke-width="1.6"/><path d="M102.28 362.13L116.88 347.53" stroke="#fff" stroke-width="1.3"/><path d="M104.23 364.08L118.83 349.48" stroke="#000" stroke-width="4.2"/></g>
<rect x="104.4" y="349.65" width="8.6" height="8.6" fill="none" stroke="#333" stroke-width="0.8"/>
<g fill="#262626"><ellipse cx="192.7" cy="379.1" rx="0.95" ry="1.2"/><ellipse cx="190.5" cy="381" rx="1.05" ry="0.95"/><ellipse cx="194.9" cy="381" rx="1.05" ry="0.95"/><rect x="190.5" y="380.55" width="4.4" height="0.9" fill="#555"/><path d="M192.15 379.5L193.25 379.5L193.25 381.6Q193.8 382.6 193.6 383.6L192.9 390.5L192.5 390.5L191.8 383.6Q191.6 382.6 192.15 381.6Z"/></g>
<g fill="#262626"><ellipse cx="189.2" cy="385.1" rx="0.95" ry="1.2"/><ellipse cx="187" cy="387" rx="1.05" ry="0.95"/><ellipse cx="191.4" cy="387" rx="1.05" ry="0.95"/><rect x="187" y="386.55" width="4.4" height="0.9" fill="#555"/><path d="M188.65 385.5L189.75 385.5L189.75 387.6Q190.3 388.6 190.1 389.6L189.4 396.5L189 396.5L188.3 389.6Q188.1 388.6 188.65 387.6Z"/></g>
<g fill="#262626"><ellipse cx="273.5" cy="360.3" rx="0.95" ry="1.2"/><ellipse cx="271.3" cy="362.2" rx="1.05" ry="0.95"/><ellipse cx="275.7" cy="362.2" rx="1.05" ry="0.95"/><rect x="271.3" y="361.75" width="4.4" height="0.9" fill="#555"/><path d="M272.95 360.7L274.05 360.7L274.05 362.8Q274.6 363.8 274.4 364.8L273.7 371.7L273.3 371.7L272.6 364.8Q272.4 363.8 272.95 362.8Z"/></g>
<line x1="356.8" y1="300.5" x2="356.8" y2="407.4" stroke="#8f8f8f" stroke-width="1"/>
<line x1="351.8" y1="407.4" x2="356.8" y2="407.4" stroke="#8f8f8f" stroke-width="1"/>
<text x="350.4" y="413.4" font-family="'Liberation Serif', serif" font-size="14.4" text-anchor="end" font-weight="normal" >0</text>
<line x1="353.8" y1="402.05" x2="356.8" y2="402.05" stroke="#8f8f8f" stroke-width="1"/>
<line x1="353.8" y1="396.71" x2="356.8" y2="396.71" stroke="#8f8f8f" stroke-width="1"/>
<line x1="353.8" y1="391.37" x2="356.8" y2="391.37" stroke="#8f8f8f" stroke-width="1"/>
<line x1="351.8" y1="386.02" x2="356.8" y2="386.02" stroke="#8f8f8f" stroke-width="1"/>
<text x="350.4" y="392.02" font-family="'Liberation Serif', serif" font-size="14.4" text-anchor="end" font-weight="normal" >40</text>
<line x1="353.8" y1="380.67" x2="356.8" y2="380.67" stroke="#8f8f8f" stroke-width="1"/>
<line x1="353.8" y1="375.33" x2="356.8" y2="375.33" stroke="#8f8f8f" stroke-width="1"/>
<line x1="353.8" y1="369.99" x2="356.8" y2="369.99" stroke="#8f8f8f" stroke-width="1"/>
<line x1="351.8" y1="364.64" x2="356.8" y2="364.64" stroke="#8f8f8f" stroke-width="1"/>
<text x="350.4" y="370.64" font-family="'Liberation Serif', serif" font-size="14.4" text-anchor="end" font-weight="normal" >80</text>
<line x1="353.8" y1="359.29" x2="356.8" y2="359.29" stroke="#8f8f8f" stroke-width="1"/>
<line x1="353.8" y1="353.95" x2="356.8" y2="353.95" stroke="#8f8f8f" stroke-width="1"/>
<line x1="353.8" y1="348.61" x2="356.8" y2="348.61" stroke="#8f8f8f" stroke-width="1"/>
<line x1="351.8" y1="343.26" x2="356.8" y2="343.26" stroke="#8f8f8f" stroke-width="1"/>
<text x="350.4" y="349.26" font-family="'Liberation Serif', serif" font-size="14.4" text-anchor="end" font-weight="normal" >120</text>
<line x1="353.8" y1="337.91" x2="356.8" y2="337.91" stroke="#8f8f8f" stroke-width="1"/>
<line x1="353.8" y1="332.57" x2="356.8" y2="332.57" stroke="#8f8f8f" stroke-width="1"/>
<line x1="353.8" y1="327.23" x2="356.8" y2="327.23" stroke="#8f8f8f" stroke-width="1"/>
<line x1="351.8" y1="321.88" x2="356.8" y2="321.88" stroke="#8f8f8f" stroke-width="1"/>
<text x="350.4" y="327.88" font-family="'Liberation Serif', serif" font-size="14.4" text-anchor="end" font-weight="normal" >160</text>
<line x1="353.8" y1="316.53" x2="356.8" y2="316.53" stroke="#8f8f8f" stroke-width="1"/>
<line x1="353.8" y1="311.19" x2="356.8" y2="311.19" stroke="#8f8f8f" stroke-width="1"/>
<line x1="353.8" y1="305.85" x2="356.8" y2="305.85" stroke="#8f8f8f" stroke-width="1"/>
<line x1="351.8" y1="300.5" x2="356.8" y2="300.5" stroke="#8f8f8f" stroke-width="1"/>
<text x="350.4" y="306.5" font-family="'Liberation Serif', serif" font-size="14.4" text-anchor="end" font-weight="normal" >200</text>
<line x1="356.8" y1="407.4" x2="509.5" y2="407.4" stroke="#8f8f8f" stroke-width="1"/>
<line x1="356.8" y1="407.4" x2="356.8" y2="404.9" stroke="#8f8f8f" stroke-width="1"/>
<text x="358.6" y="425.8" font-family="'Liberation Serif', serif" font-size="14.4" text-anchor="middle" font-weight="normal" >0</text>
<line x1="378.3" y1="407.4" x2="378.3" y2="404.9" stroke="#8f8f8f" stroke-width="1"/>
<text x="378.6" y="425.8" font-family="'Liberation Serif', serif" font-size="14.4" text-anchor="middle" font-weight="normal" >6</text>
<line x1="398.9" y1="407.4" x2="398.9" y2="404.9" stroke="#8f8f8f" stroke-width="1"/>
<text x="399.2" y="425.8" font-family="'Liberation Serif', serif" font-size="14.4" text-anchor="middle" font-weight="normal" >12</text>
<line x1="423" y1="407.4" x2="423" y2="404.9" stroke="#8f8f8f" stroke-width="1"/>
<text x="423.3" y="425.8" font-family="'Liberation Serif', serif" font-size="14.4" text-anchor="middle" font-weight="normal" >24</text>
<line x1="450.4" y1="407.4" x2="450.4" y2="404.9" stroke="#8f8f8f" stroke-width="1"/>
<text x="450.7" y="425.8" font-family="'Liberation Serif', serif" font-size="14.4" text-anchor="middle" font-weight="normal" >48</text>
<line x1="477.6" y1="407.4" x2="477.6" y2="404.9" stroke="#8f8f8f" stroke-width="1"/>
<text x="477.9" y="425.8" font-family="'Liberation Serif', serif" font-size="14.4" text-anchor="middle" font-weight="normal" >96</text>
<line x1="508.7" y1="407.4" x2="508.7" y2="404.9" stroke="#8f8f8f" stroke-width="1"/>
<text x="509" y="425.8" font-family="'Liberation Serif', serif" font-size="14.4" text-anchor="middle" font-weight="normal" >168</text>
<polyline points="356.8,353.95 378.3,372.12 398.9,365.82 450.4,373.3 477.6,385.91 508.7,353.95" fill="none" stroke="#8a8a8a" stroke-width="1"/>
<polyline points="356.8,353.95 378.3,372.12 398.9,355.98 450.4,346.79 477.6,376.93 508.7,374.1" fill="none" stroke="#8a8a8a" stroke-width="1"/>
<polyline points="356.8,355.98 378.3,375.86 423,379.29 477.6,378.11 508.7,376.72" fill="none" stroke="#8a8a8a" stroke-width="1"/>
<rect x="374.5" y="368.32" width="7.6" height="7.6" fill="#fff" stroke="#8a8a8a" stroke-width="1"/>
<rect x="395.1" y="362.02" width="7.6" height="7.6" fill="#fff" stroke="#8a8a8a" stroke-width="1"/>
<rect x="446.6" y="369.5" width="7.6" height="7.6" fill="#fff" stroke="#8a8a8a" stroke-width="1"/>
<rect x="473.8" y="382.11" width="7.6" height="7.6" fill="#fff" stroke="#8a8a8a" stroke-width="1"/>
<rect x="504.9" y="350.15" width="7.6" height="7.6" fill="#fff" stroke="#8a8a8a" stroke-width="1"/>
<circle cx="378.3" cy="372.12" r="3.7" fill="#fff" stroke="#8a8a8a" stroke-width="1"/>
<circle cx="398.9" cy="355.98" r="3.7" fill="#fff" stroke="#8a8a8a" stroke-width="1"/>
<circle cx="450.4" cy="346.79" r="3.7" fill="#fff" stroke="#8a8a8a" stroke-width="1"/>
<circle cx="477.6" cy="376.93" r="3.7" fill="#fff" stroke="#8a8a8a" stroke-width="1"/>
<circle cx="508.7" cy="374.1" r="3.7" fill="#fff" stroke="#8a8a8a" stroke-width="1"/>
<path d="M378.3 371.36L382.4 375.86L378.3 380.36L374.2 375.86Z" fill="#000"/>
<path d="M423 374.79L427.1 379.29L423 383.79L418.9 379.29Z" fill="#000"/>
<path d="M477.6 373.61L481.7 378.11L477.6 382.61L473.5 378.11Z" fill="#000"/>
<path d="M508.7 372.22L512.8 376.72L508.7 381.22L504.6 376.72Z" fill="#000"/>
<rect x="353" y="350.15" width="7.6" height="7.6" fill="#fff" stroke="#8a8a8a" stroke-width="1"/>
<path d="M356.8 351.48L360.9 355.98L356.8 360.48L352.7 355.98Z" fill="#000"/>
<line x1="108.7" y1="439.2" x2="108.7" y2="545.8" stroke="#8f8f8f" stroke-width="1"/>
<line x1="103.7" y1="545.8" x2="108.7" y2="545.8" stroke="#8f8f8f" stroke-width="1"/>
<text x="102.4" y="551.8" font-family="'Liberation Serif', serif" font-size="14.4" text-anchor="end" font-weight="normal" >0</text>
<line x1="105.7" y1="540.47" x2="108.7" y2="540.47" stroke="#8f8f8f" stroke-width="1"/>
<line x1="105.7" y1="535.14" x2="108.7" y2="535.14" stroke="#8f8f8f" stroke-width="1"/>
<line x1="105.7" y1="529.81" x2="108.7" y2="529.81" stroke="#8f8f8f" stroke-width="1"/>
<line x1="103.7" y1="524.48" x2="108.7" y2="524.48" stroke="#8f8f8f" stroke-width="1"/>
<text x="102.4" y="530.48" font-family="'Liberation Serif', serif" font-size="14.4" text-anchor="end" font-weight="normal" >40</text>
<line x1="105.7" y1="519.15" x2="108.7" y2="519.15" stroke="#8f8f8f" stroke-width="1"/>
<line x1="105.7" y1="513.82" x2="108.7" y2="513.82" stroke="#8f8f8f" stroke-width="1"/>
<line x1="105.7" y1="508.49" x2="108.7" y2="508.49" stroke="#8f8f8f" stroke-width="1"/>
<line x1="103.7" y1="503.16" x2="108.7" y2="503.16" stroke="#8f8f8f" stroke-width="1"/>
<text x="102.4" y="509.16" font-family="'Liberation Serif', serif" font-size="14.4" text-anchor="end" font-weight="normal" >80</text>
<line x1="105.7" y1="497.83" x2="108.7" y2="497.83" stroke="#8f8f8f" stroke-width="1"/>
<line x1="105.7" y1="492.5" x2="108.7" y2="492.5" stroke="#8f8f8f" stroke-width="1"/>
<line x1="105.7" y1="487.17" x2="108.7" y2="487.17" stroke="#8f8f8f" stroke-width="1"/>
<line x1="103.7" y1="481.84" x2="108.7" y2="481.84" stroke="#8f8f8f" stroke-width="1"/>
<text x="102.4" y="487.84" font-family="'Liberation Serif', serif" font-size="14.4" text-anchor="end" font-weight="normal" >120</text>
<line x1="105.7" y1="476.51" x2="108.7" y2="476.51" stroke="#8f8f8f" stroke-width="1"/>
<line x1="105.7" y1="471.18" x2="108.7" y2="471.18" stroke="#8f8f8f" stroke-width="1"/>
<line x1="105.7" y1="465.85" x2="108.7" y2="465.85" stroke="#8f8f8f" stroke-width="1"/>
<line x1="103.7" y1="460.52" x2="108.7" y2="460.52" stroke="#8f8f8f" stroke-width="1"/>
<text x="102.4" y="466.52" font-family="'Liberation Serif', serif" font-size="14.4" text-anchor="end" font-weight="normal" >160</text>
<line x1="105.7" y1="455.19" x2="108.7" y2="455.19" stroke="#8f8f8f" stroke-width="1"/>
<line x1="105.7" y1="449.86" x2="108.7" y2="449.86" stroke="#8f8f8f" stroke-width="1"/>
<line x1="105.7" y1="444.53" x2="108.7" y2="444.53" stroke="#8f8f8f" stroke-width="1"/>
<line x1="103.7" y1="439.2" x2="108.7" y2="439.2" stroke="#8f8f8f" stroke-width="1"/>
<text x="102.4" y="445.2" font-family="'Liberation Serif', serif" font-size="14.4" text-anchor="end" font-weight="normal" >200</text>
<line x1="108.7" y1="545.8" x2="261.8" y2="545.8" stroke="#8f8f8f" stroke-width="1"/>
<line x1="108.7" y1="545.8" x2="108.7" y2="543.3" stroke="#8f8f8f" stroke-width="1"/>
<text x="110.5" y="564.2" font-family="'Liberation Serif', serif" font-size="14.4" text-anchor="middle" font-weight="normal" >0</text>
<line x1="133.5" y1="545.8" x2="133.5" y2="543.3" stroke="#8f8f8f" stroke-width="1"/>
<text x="133.8" y="564.2" font-family="'Liberation Serif', serif" font-size="14.4" text-anchor="middle" font-weight="normal" >6</text>
<line x1="158.8" y1="545.8" x2="158.8" y2="543.3" stroke="#8f8f8f" stroke-width="1"/>
<text x="159.1" y="564.2" font-family="'Liberation Serif', serif" font-size="14.4" text-anchor="middle" font-weight="normal" >12</text>
<line x1="181.2" y1="545.8" x2="181.2" y2="543.3" stroke="#8f8f8f" stroke-width="1"/>
<text x="181.5" y="564.2" font-family="'Liberation Serif', serif" font-size="14.4" text-anchor="middle" font-weight="normal" >24</text>
<line x1="206" y1="545.8" x2="206" y2="543.3" stroke="#8f8f8f" stroke-width="1"/>
<text x="206.3" y="564.2" font-family="'Liberation Serif', serif" font-size="14.4" text-anchor="middle" font-weight="normal" >48</text>
<line x1="231.2" y1="545.8" x2="231.2" y2="543.3" stroke="#8f8f8f" stroke-width="1"/>
<text x="231.5" y="564.2" font-family="'Liberation Serif', serif" font-size="14.4" text-anchor="middle" font-weight="normal" >96</text>
<line x1="261" y1="545.8" x2="261" y2="543.3" stroke="#8f8f8f" stroke-width="1"/>
<text x="261.3" y="564.2" font-family="'Liberation Serif', serif" font-size="14.4" text-anchor="middle" font-weight="normal" >168</text>
<polyline points="108.7,493.94 133.5,510.78 158.8,513.29 181.2,519.15 206,532.69 231.2,522.08 261,499.43" fill="none" stroke="#8a8a8a" stroke-width="1"/>
<polyline points="108.7,493.94 133.5,483.76 158.8,506.89 181.2,507.42 206,513.45 231.2,499.43 261,493.03" fill="none" stroke="#8a8a8a" stroke-width="1"/>
<polyline points="108.7,493.94 181.2,514.57 261,499.43" fill="none" stroke="#8a8a8a" stroke-width="1"/>
<polyline points="108.7,493.94 181.2,516.7" fill="none" stroke="#8a8a8a" stroke-width="1"/>
<polyline points="108.7,493.94 181.2,520.96" fill="none" stroke="#8a8a8a" stroke-width="1"/>
<circle cx="133.5" cy="483.76" r="3.5" fill="#868686" stroke="#5e5e5e" stroke-width="0.9"/>
<rect x="129.3" y="506.78" width="8.4" height="8" fill="#868686" stroke="#5e5e5e" stroke-width="0.9"/>
<rect x="154.6" y="509.29" width="8.4" height="8" fill="#868686" stroke="#5e5e5e" stroke-width="0.9"/>
<circle cx="158.8" cy="506.89" r="3.5" fill="#868686" stroke="#5e5e5e" stroke-width="0.9"/>
<circle cx="181.2" cy="507.42" r="3.5" fill="#868686" stroke="#5e5e5e" stroke-width="0.9"/>
<circle cx="206" cy="513.45" r="3.5" fill="#868686" stroke="#5e5e5e" stroke-width="0.9"/>
<rect x="201.8" y="528.69" width="8.4" height="8" fill="#868686" stroke="#5e5e5e" stroke-width="0.9"/>
<circle cx="231.2" cy="499.43" r="3.5" fill="#868686" stroke="#5e5e5e" stroke-width="0.9"/>
<rect x="227" y="518.08" width="8.4" height="8" fill="#868686" stroke="#5e5e5e" stroke-width="0.9"/>
<rect x="256.8" y="495.43" width="8.4" height="8" fill="#868686" stroke="#5e5e5e" stroke-width="0.9"/>
<circle cx="261" cy="493.03" r="3.5" fill="#868686" stroke="#5e5e5e" stroke-width="0.9"/>
<clipPath id="c12"><path d="M181.2 512L185.5 519.4L176.9 519.4Z"/></clipPath>
<g clip-path="url(#c12)"><path d="M181.2 512L185.5 519.4L176.9 519.4Z" fill="#fff"/><path d="M181.5 511L187 520.6" stroke="#000" stroke-width="4.2"/><path d="M175.9 520L180.1 518.8" stroke="#000" stroke-width="2.6"/></g>
<path d="M181.2 512L185.5 519.4L176.9 519.4Z" fill="none" stroke="#555" stroke-width="0.6"/>
<path d="M181.2 509.77L185.6 517.37L176.8 517.37Z" fill="#000"/>
<clipPath id="c13"><path d="M181.2 516.26L185.5 523.66L176.9 523.66Z"/></clipPath>
<g clip-path="url(#c13)"><path d="M181.2 516.26L185.5 523.66L176.9 523.66Z" fill="#000"/><path d="M175.9 524.86L183.4 517.06" stroke="#fff" stroke-width="1.5"/></g>
<path d="M261 494.63L265.4 502.23L256.6 502.23Z" fill="#000"/>
<clipPath id="c14"><rect x="104.4" y="489.64" width="8.6" height="8.6"/></clipPath>
<g clip-path="url(#c14)"><rect x="104.4" y="489.64" width="8.6" height="8.6" fill="#868686"/><path d="M101.26 501.1L115.86 486.5" stroke="#000" stroke-width="1.6"/><path d="M102.28 502.12L116.88 487.52" stroke="#fff" stroke-width="1.3"/><path d="M104.23 504.07L118.83 489.47" stroke="#000" stroke-width="4.2"/></g>
<rect x="104.4" y="489.64" width="8.6" height="8.6" fill="none" stroke="#333" stroke-width="0.8"/>
<g fill="#262626"><ellipse cx="188.8" cy="510.1" rx="0.95" ry="1.2"/><ellipse cx="186.6" cy="512" rx="1.05" ry="0.95"/><ellipse cx="191" cy="512" rx="1.05" ry="0.95"/><rect x="186.6" y="511.55" width="4.4" height="0.9" fill="#555"/><path d="M188.25 510.5L189.35 510.5L189.35 512.6Q189.9 513.6 189.7 514.6L189 521.5L188.6 521.5L187.9 514.6Q187.7 513.6 188.25 512.6Z"/></g>
<g fill="#262626"><ellipse cx="193.8" cy="505.1" rx="0.95" ry="1.2"/><ellipse cx="191.6" cy="507" rx="1.05" ry="0.95"/><ellipse cx="196" cy="507" rx="1.05" ry="0.95"/><rect x="191.6" y="506.55" width="4.4" height="0.9" fill="#555"/><path d="M193.25 505.5L194.35 505.5L194.35 507.6Q194.9 508.6 194.7 509.6L194 516.5L193.6 516.5L192.9 509.6Q192.7 508.6 193.25 507.6Z"/></g>
<g fill="#262626"><ellipse cx="273.5" cy="484.9" rx="0.95" ry="1.2"/><ellipse cx="271.3" cy="486.8" rx="1.05" ry="0.95"/><ellipse cx="275.7" cy="486.8" rx="1.05" ry="0.95"/><rect x="271.3" y="486.35" width="4.4" height="0.9" fill="#555"/><path d="M272.95 485.3L274.05 485.3L274.05 487.4Q274.6 488.4 274.4 489.4L273.7 496.3L273.3 496.3L272.6 489.4Q272.4 488.4 272.95 487.4Z"/></g>
<line x1="356.8" y1="439.2" x2="356.8" y2="545.8" stroke="#8f8f8f" stroke-width="1"/>
<line x1="351.8" y1="545.8" x2="356.8" y2="545.8" stroke="#8f8f8f" stroke-width="1"/>
<text x="350.4" y="551.8" font-family="'Liberation Serif', serif" font-size="14.4" text-anchor="end" font-weight="normal" >0</text>
<line x1="353.8" y1="540.47" x2="356.8" y2="540.47" stroke="#8f8f8f" stroke-width="1"/>
<line x1="353.8" y1="535.14" x2="356.8" y2="535.14" stroke="#8f8f8f" stroke-width="1"/>
<line x1="353.8" y1="529.81" x2="356.8" y2="529.81" stroke="#8f8f8f" stroke-width="1"/>
<line x1="351.8" y1="524.48" x2="356.8" y2="524.48" stroke="#8f8f8f" stroke-width="1"/>
<text x="350.4" y="530.48" font-family="'Liberation Serif', serif" font-size="14.4" text-anchor="end" font-weight="normal" >40</text>
<line x1="353.8" y1="519.15" x2="356.8" y2="519.15" stroke="#8f8f8f" stroke-width="1"/>
<line x1="353.8" y1="513.82" x2="356.8" y2="513.82" stroke="#8f8f8f" stroke-width="1"/>
<line x1="353.8" y1="508.49" x2="356.8" y2="508.49" stroke="#8f8f8f" stroke-width="1"/>
<line x1="351.8" y1="503.16" x2="356.8" y2="503.16" stroke="#8f8f8f" stroke-width="1"/>
<text x="350.4" y="509.16" font-family="'Liberation Serif', serif" font-size="14.4" text-anchor="end" font-weight="normal" >80</text>
<line x1="353.8" y1="497.83" x2="356.8" y2="497.83" stroke="#8f8f8f" stroke-width="1"/>
<line x1="353.8" y1="492.5" x2="356.8" y2="492.5" stroke="#8f8f8f" stroke-width="1"/>
<line x1="353.8" y1="487.17" x2="356.8" y2="487.17" stroke="#8f8f8f" stroke-width="1"/>
<line x1="351.8" y1="481.84" x2="356.8" y2="481.84" stroke="#8f8f8f" stroke-width="1"/>
<text x="350.4" y="487.84" font-family="'Liberation Serif', serif" font-size="14.4" text-anchor="end" font-weight="normal" >120</text>
<line x1="353.8" y1="476.51" x2="356.8" y2="476.51" stroke="#8f8f8f" stroke-width="1"/>
<line x1="353.8" y1="471.18" x2="356.8" y2="471.18" stroke="#8f8f8f" stroke-width="1"/>
<line x1="353.8" y1="465.85" x2="356.8" y2="465.85" stroke="#8f8f8f" stroke-width="1"/>
<line x1="351.8" y1="460.52" x2="356.8" y2="460.52" stroke="#8f8f8f" stroke-width="1"/>
<text x="350.4" y="466.52" font-family="'Liberation Serif', serif" font-size="14.4" text-anchor="end" font-weight="normal" >160</text>
<line x1="353.8" y1="455.19" x2="356.8" y2="455.19" stroke="#8f8f8f" stroke-width="1"/>
<line x1="353.8" y1="449.86" x2="356.8" y2="449.86" stroke="#8f8f8f" stroke-width="1"/>
<line x1="353.8" y1="444.53" x2="356.8" y2="444.53" stroke="#8f8f8f" stroke-width="1"/>
<line x1="351.8" y1="439.2" x2="356.8" y2="439.2" stroke="#8f8f8f" stroke-width="1"/>
<text x="350.4" y="445.2" font-family="'Liberation Serif', serif" font-size="14.4" text-anchor="end" font-weight="normal" >200</text>
<line x1="356.8" y1="545.8" x2="509.5" y2="545.8" stroke="#8f8f8f" stroke-width="1"/>
<line x1="356.8" y1="545.8" x2="356.8" y2="543.3" stroke="#8f8f8f" stroke-width="1"/>
<text x="358.6" y="564.2" font-family="'Liberation Serif', serif" font-size="14.4" text-anchor="middle" font-weight="normal" >0</text>
<line x1="378.3" y1="545.8" x2="378.3" y2="543.3" stroke="#8f8f8f" stroke-width="1"/>
<text x="378.6" y="564.2" font-family="'Liberation Serif', serif" font-size="14.4" text-anchor="middle" font-weight="normal" >6</text>
<line x1="398.9" y1="545.8" x2="398.9" y2="543.3" stroke="#8f8f8f" stroke-width="1"/>
<text x="399.2" y="564.2" font-family="'Liberation Serif', serif" font-size="14.4" text-anchor="middle" font-weight="normal" >12</text>
<line x1="423" y1="545.8" x2="423" y2="543.3" stroke="#8f8f8f" stroke-width="1"/>
<text x="423.3" y="564.2" font-family="'Liberation Serif', serif" font-size="14.4" text-anchor="middle" font-weight="normal" >24</text>
<line x1="450.4" y1="545.8" x2="450.4" y2="543.3" stroke="#8f8f8f" stroke-width="1"/>
<text x="450.7" y="564.2" font-family="'Liberation Serif', serif" font-size="14.4" text-anchor="middle" font-weight="normal" >48</text>
<line x1="477.6" y1="545.8" x2="477.6" y2="543.3" stroke="#8f8f8f" stroke-width="1"/>
<text x="477.9" y="564.2" font-family="'Liberation Serif', serif" font-size="14.4" text-anchor="middle" font-weight="normal" >96</text>
<line x1="508.7" y1="545.8" x2="508.7" y2="543.3" stroke="#8f8f8f" stroke-width="1"/>
<text x="509" y="564.2" font-family="'Liberation Serif', serif" font-size="14.4" text-anchor="middle" font-weight="normal" >168</text>
<polyline points="356.8,492.87 378.3,503.16 398.9,496.23 450.4,493.03 477.6,500.87 508.7,477.58" fill="none" stroke="#8a8a8a" stroke-width="1"/>
<polyline points="356.8,492.87 378.3,491.17 398.9,487.7 450.4,467.98 477.6,503.69 508.7,493.35" fill="none" stroke="#8a8a8a" stroke-width="1"/>
<polyline points="356.8,492.87 378.3,506.68 423,502.36 477.6,483.55 508.7,505.19" fill="none" stroke="#8a8a8a" stroke-width="1"/>
<rect x="374.5" y="499.36" width="7.6" height="7.6" fill="#fff" stroke="#8a8a8a" stroke-width="1"/>
<rect x="395.1" y="492.43" width="7.6" height="7.6" fill="#fff" stroke="#8a8a8a" stroke-width="1"/>
<rect x="446.6" y="489.23" width="7.6" height="7.6" fill="#fff" stroke="#8a8a8a" stroke-width="1"/>
<rect x="473.8" y="497.07" width="7.6" height="7.6" fill="#fff" stroke="#8a8a8a" stroke-width="1"/>
<rect x="504.9" y="473.78" width="7.6" height="7.6" fill="#fff" stroke="#8a8a8a" stroke-width="1"/>
<circle cx="378.3" cy="491.17" r="3.7" fill="#fff" stroke="#8a8a8a" stroke-width="1"/>
<circle cx="398.9" cy="487.7" r="3.7" fill="#fff" stroke="#8a8a8a" stroke-width="1"/>
<circle cx="450.4" cy="467.98" r="3.7" fill="#fff" stroke="#8a8a8a" stroke-width="1"/>
<circle cx="477.6" cy="503.69" r="3.7" fill="#fff" stroke="#8a8a8a" stroke-width="1"/>
<circle cx="508.7" cy="493.35" r="3.7" fill="#fff" stroke="#8a8a8a" stroke-width="1"/>
<path d="M378.3 502.18L382.4 506.68L378.3 511.18L374.2 506.68Z" fill="#000"/>
<path d="M423 497.86L427.1 502.36L423 506.86L418.9 502.36Z" fill="#000"/>
<path d="M477.6 479.05L481.7 483.55L477.6 488.05L473.5 483.55Z" fill="#000"/>
<path d="M508.7 500.69L512.8 505.19L508.7 509.69L504.6 505.19Z" fill="#000"/>
<rect x="353" y="489.07" width="7.6" height="7.6" fill="#fff" stroke="#8a8a8a" stroke-width="1"/>
<path d="M356.8 488.37L360.9 492.87L356.8 497.37L352.7 492.87Z" fill="#000"/>
<line x1="108.5" y1="594.7" x2="108.5" y2="680.2" stroke="#8f8f8f" stroke-width="1"/>
<line x1="106" y1="680.2" x2="108.5" y2="680.2" stroke="#8f8f8f" stroke-width="1"/>
<text x="96.4" y="685.3" font-family="'Liberation Serif', serif" font-size="14.4" text-anchor="end" font-weight="normal" >0</text>
<line x1="106" y1="665.95" x2="108.5" y2="665.95" stroke="#8f8f8f" stroke-width="1"/>
<line x1="106" y1="651.7" x2="108.5" y2="651.7" stroke="#8f8f8f" stroke-width="1"/>
<text x="96.4" y="656.8" font-family="'Liberation Serif', serif" font-size="14.4" text-anchor="end" font-weight="normal" >40</text>
<line x1="106" y1="637.45" x2="108.5" y2="637.45" stroke="#8f8f8f" stroke-width="1"/>
<line x1="106" y1="623.2" x2="108.5" y2="623.2" stroke="#8f8f8f" stroke-width="1"/>
<text x="96.4" y="628.3" font-family="'Liberation Serif', serif" font-size="14.4" text-anchor="end" font-weight="normal" >80</text>
<line x1="106" y1="608.95" x2="108.5" y2="608.95" stroke="#8f8f8f" stroke-width="1"/>
<line x1="106" y1="594.7" x2="108.5" y2="594.7" stroke="#8f8f8f" stroke-width="1"/>
<text x="96.4" y="599.8" font-family="'Liberation Serif', serif" font-size="14.4" text-anchor="end" font-weight="normal" >120</text>
<line x1="108.5" y1="680.2" x2="212.4" y2="680.2" stroke="#8f8f8f" stroke-width="1"/>
<line x1="132.02" y1="680.2" x2="132.02" y2="682.7" stroke="#8f8f8f" stroke-width="1"/>
<line x1="155.54" y1="680.2" x2="155.54" y2="682.7" stroke="#8f8f8f" stroke-width="1"/>
<line x1="179.06" y1="680.2" x2="179.06" y2="682.7" stroke="#8f8f8f" stroke-width="1"/>
<line x1="202.58" y1="680.2" x2="202.58" y2="682.7" stroke="#8f8f8f" stroke-width="1"/>
<text x="107.4" y="695.8" font-family="'Liberation Serif', serif" font-size="14.2" text-anchor="middle" font-weight="normal" >0</text>
<text x="130.1" y="695.8" font-family="'Liberation Serif', serif" font-size="14.2" text-anchor="middle" font-weight="normal" >12</text>
<text x="153" y="695.8" font-family="'Liberation Serif', serif" font-size="14.2" text-anchor="middle" font-weight="normal" >24</text>
<text x="176.5" y="695.8" font-family="'Liberation Serif', serif" font-size="14.2" text-anchor="middle" font-weight="normal" >36</text>
<text x="199.4" y="695.8" font-family="'Liberation Serif', serif" font-size="14.2" text-anchor="middle" font-weight="normal" >48</text>
<polyline points="108.5,608.95 120.26,624.62 132.02,628.9 202.58,608.95" fill="none" stroke="#8a8a8a" stroke-width="1"/>
<polyline points="108.5,608.95 120.26,606.81 132.02,608.59 202.58,593.99" fill="none" stroke="#8a8a8a" stroke-width="1"/>
<polyline points="108.5,608.95 120.26,630.33 132.02,654.12 155.54,663.1 202.58,637.24" fill="none" stroke="#8a8a8a" stroke-width="1"/>
<polyline points="108.5,608.95 120.26,648.85 132.02,672.79 155.54,666.31 202.58,650.13" fill="none" stroke="#8a8a8a" stroke-width="1"/>
<rect x="105.2" y="605.95" width="6.6" height="6" fill="#fff" stroke="#8a8a8a" stroke-width="1"/>
<rect x="116.96" y="621.62" width="6.6" height="6" fill="#fff" stroke="#8a8a8a" stroke-width="1"/>
<rect x="128.72" y="625.9" width="6.6" height="6" fill="#fff" stroke="#8a8a8a" stroke-width="1"/>
<rect x="199.28" y="605.95" width="6.6" height="6" fill="#fff" stroke="#8a8a8a" stroke-width="1"/>
<circle cx="108.5" cy="608.95" r="3.1" fill="#fff" stroke="#8a8a8a" stroke-width="1"/>
<circle cx="120.26" cy="606.81" r="3.1" fill="#fff" stroke="#8a8a8a" stroke-width="1"/>
<circle cx="132.02" cy="608.59" r="3.1" fill="#fff" stroke="#8a8a8a" stroke-width="1"/>
<circle cx="202.58" cy="593.99" r="3.1" fill="#fff" stroke="#8a8a8a" stroke-width="1"/>
<rect x="105.7" y="606.35" width="5.6" height="5.2" fill="#868686" stroke="#5e5e5e" stroke-width="0.9"/>
<rect x="117.46" y="627.73" width="5.6" height="5.2" fill="#868686" stroke="#5e5e5e" stroke-width="0.9"/>
<rect x="129.22" y="651.52" width="5.6" height="5.2" fill="#868686" stroke="#5e5e5e" stroke-width="0.9"/>
<rect x="152.74" y="660.5" width="5.6" height="5.2" fill="#868686" stroke="#5e5e5e" stroke-width="0.9"/>
<rect x="199.78" y="634.64" width="5.6" height="5.2" fill="#868686" stroke="#5e5e5e" stroke-width="0.9"/>
<circle cx="108.5" cy="608.95" r="2.8" fill="#868686" stroke="#5e5e5e" stroke-width="0.9"/>
<circle cx="120.26" cy="648.85" r="2.8" fill="#868686" stroke="#5e5e5e" stroke-width="0.9"/>
<circle cx="132.02" cy="672.79" r="2.8" fill="#868686" stroke="#5e5e5e" stroke-width="0.9"/>
<circle cx="155.54" cy="666.31" r="2.8" fill="#868686" stroke="#5e5e5e" stroke-width="0.9"/>
<circle cx="202.58" cy="650.13" r="2.8" fill="#868686" stroke="#5e5e5e" stroke-width="0.9"/>
<rect x="105.5" y="606.25" width="6" height="5.4" fill="#868686" stroke="#5e5e5e" stroke-width="0.9"/>
<text x="138" y="596.6" font-family="'Liberation Serif', serif" font-size="14.2" text-anchor="start" font-weight="normal" >N CD4</text>
<line x1="108.5" y1="707.9" x2="108.5" y2="793.4" stroke="#8f8f8f" stroke-width="1"/>
<line x1="106" y1="793.4" x2="108.5" y2="793.4" stroke="#8f8f8f" stroke-width="1"/>
<text x="99.1" y="798.5" font-family="'Liberation Serif', serif" font-size="14.4" text-anchor="end" font-weight="normal" >0</text>
<line x1="106" y1="779.15" x2="108.5" y2="779.15" stroke="#8f8f8f" stroke-width="1"/>
<line x1="106" y1="764.9" x2="108.5" y2="764.9" stroke="#8f8f8f" stroke-width="1"/>
<text x="99.1" y="770" font-family="'Liberation Serif', serif" font-size="14.4" text-anchor="end" font-weight="normal" >40</text>
<line x1="106" y1="750.65" x2="108.5" y2="750.65" stroke="#8f8f8f" stroke-width="1"/>
<line x1="106" y1="736.4" x2="108.5" y2="736.4" stroke="#8f8f8f" stroke-width="1"/>
<text x="99.1" y="741.5" font-family="'Liberation Serif', serif" font-size="14.4" text-anchor="end" font-weight="normal" >80</text>
<line x1="106" y1="722.15" x2="108.5" y2="722.15" stroke="#8f8f8f" stroke-width="1"/>
<line x1="106" y1="707.9" x2="108.5" y2="707.9" stroke="#8f8f8f" stroke-width="1"/>
<text x="99.1" y="713" font-family="'Liberation Serif', serif" font-size="14.4" text-anchor="end" font-weight="normal" >120</text>
<line x1="108.5" y1="793.4" x2="213.1" y2="793.4" stroke="#8f8f8f" stroke-width="1"/>
<line x1="132.02" y1="793.4" x2="132.02" y2="795.9" stroke="#8f8f8f" stroke-width="1"/>
<line x1="155.54" y1="793.4" x2="155.54" y2="795.9" stroke="#8f8f8f" stroke-width="1"/>
<line x1="179.06" y1="793.4" x2="179.06" y2="795.9" stroke="#8f8f8f" stroke-width="1"/>
<line x1="202.58" y1="793.4" x2="202.58" y2="795.9" stroke="#8f8f8f" stroke-width="1"/>
<text x="107.4" y="809" font-family="'Liberation Serif', serif" font-size="14.2" text-anchor="middle" font-weight="normal" >0</text>
<text x="130.1" y="809" font-family="'Liberation Serif', serif" font-size="14.2" text-anchor="middle" font-weight="normal" >12</text>
<text x="153" y="809" font-family="'Liberation Serif', serif" font-size="14.2" text-anchor="middle" font-weight="normal" >24</text>
<text x="176.5" y="809" font-family="'Liberation Serif', serif" font-size="14.2" text-anchor="middle" font-weight="normal" >36</text>
<text x="199.4" y="809" font-family="'Liberation Serif', serif" font-size="14.2" text-anchor="middle" font-weight="normal" >48</text>
<polyline points="108.5,722.15 120.26,749.51 132.02,751.36 202.58,746.23" fill="none" stroke="#8a8a8a" stroke-width="1"/>
<polyline points="108.5,722.15 120.26,744.1 132.02,713.39 202.58,701.13" fill="none" stroke="#8a8a8a" stroke-width="1"/>
<polyline points="108.5,722.15 120.26,738.68 126.14,733.84 155.54,782 202.58,726.5" fill="none" stroke="#8a8a8a" stroke-width="1"/>
<polyline points="108.5,722.15 132.02,787.27 155.54,788.91 202.58,709.32" fill="none" stroke="#8a8a8a" stroke-width="1"/>
<rect x="105.2" y="719.15" width="6.6" height="6" fill="#fff" stroke="#8a8a8a" stroke-width="1"/>
<rect x="116.96" y="746.51" width="6.6" height="6" fill="#fff" stroke="#8a8a8a" stroke-width="1"/>
<rect x="128.72" y="748.36" width="6.6" height="6" fill="#fff" stroke="#8a8a8a" stroke-width="1"/>
<rect x="199.28" y="743.23" width="6.6" height="6" fill="#fff" stroke="#8a8a8a" stroke-width="1"/>
<circle cx="108.5" cy="722.15" r="3.1" fill="#fff" stroke="#8a8a8a" stroke-width="1"/>
<circle cx="120.26" cy="744.1" r="3.1" fill="#fff" stroke="#8a8a8a" stroke-width="1"/>
<circle cx="132.02" cy="713.39" r="3.1" fill="#fff" stroke="#8a8a8a" stroke-width="1"/>
<circle cx="202.58" cy="701.13" r="3.1" fill="#fff" stroke="#8a8a8a" stroke-width="1"/>
<rect x="105.7" y="719.55" width="5.6" height="5.2" fill="#868686" stroke="#5e5e5e" stroke-width="0.9"/>
<rect x="117.46" y="736.08" width="5.6" height="5.2" fill="#868686" stroke="#5e5e5e" stroke-width="0.9"/>
<rect x="123.34" y="731.24" width="5.6" height="5.2" fill="#868686" stroke="#5e5e5e" stroke-width="0.9"/>
<rect x="152.74" y="779.4" width="5.6" height="5.2" fill="#868686" stroke="#5e5e5e" stroke-width="0.9"/>
<rect x="199.78" y="723.9" width="5.6" height="5.2" fill="#868686" stroke="#5e5e5e" stroke-width="0.9"/>
<circle cx="108.5" cy="722.15" r="2.8" fill="#868686" stroke="#5e5e5e" stroke-width="0.9"/>
<circle cx="132.02" cy="787.27" r="2.8" fill="#868686" stroke="#5e5e5e" stroke-width="0.9"/>
<circle cx="155.54" cy="788.91" r="2.8" fill="#868686" stroke="#5e5e5e" stroke-width="0.9"/>
<circle cx="202.58" cy="709.32" r="2.8" fill="#868686" stroke="#5e5e5e" stroke-width="0.9"/>
<rect x="105.5" y="719.45" width="6" height="5.4" fill="#868686" stroke="#5e5e5e" stroke-width="0.9"/>
<text x="140.5" y="731.5" font-family="'Liberation Serif', serif" font-size="14.2" text-anchor="start" font-weight="normal" >N CD8</text>
<line x1="258.7" y1="586.7" x2="258.7" y2="680.2" stroke="#8f8f8f" stroke-width="1"/>
<line x1="256.2" y1="680.2" x2="258.7" y2="680.2" stroke="#8f8f8f" stroke-width="1"/>
<text x="252.5" y="685.3" font-family="'Liberation Serif', serif" font-size="14.4" text-anchor="end" font-weight="normal" >0</text>
<line x1="256.2" y1="671.05" x2="258.7" y2="671.05" stroke="#8f8f8f" stroke-width="1"/>
<line x1="256.2" y1="661.9" x2="258.7" y2="661.9" stroke="#8f8f8f" stroke-width="1"/>
<line x1="256.2" y1="652.75" x2="258.7" y2="652.75" stroke="#8f8f8f" stroke-width="1"/>
<text x="252.5" y="657.85" font-family="'Liberation Serif', serif" font-size="14.4" text-anchor="end" font-weight="normal" >60</text>
<line x1="256.2" y1="643.6" x2="258.7" y2="643.6" stroke="#8f8f8f" stroke-width="1"/>
<line x1="256.2" y1="634.45" x2="258.7" y2="634.45" stroke="#8f8f8f" stroke-width="1"/>
<line x1="256.2" y1="625.3" x2="258.7" y2="625.3" stroke="#8f8f8f" stroke-width="1"/>
<text x="252.5" y="630.4" font-family="'Liberation Serif', serif" font-size="14.4" text-anchor="end" font-weight="normal" >120</text>
<line x1="256.2" y1="616.15" x2="258.7" y2="616.15" stroke="#8f8f8f" stroke-width="1"/>
<line x1="256.2" y1="607" x2="258.7" y2="607" stroke="#8f8f8f" stroke-width="1"/>
<line x1="256.2" y1="597.85" x2="258.7" y2="597.85" stroke="#8f8f8f" stroke-width="1"/>
<text x="252.5" y="602.95" font-family="'Liberation Serif', serif" font-size="14.4" text-anchor="end" font-weight="normal" >180</text>
<line x1="256.2" y1="588.7" x2="258.7" y2="588.7" stroke="#8f8f8f" stroke-width="1"/>
<line x1="258.7" y1="680.2" x2="359.6" y2="680.2" stroke="#8f8f8f" stroke-width="1"/>
<line x1="282.22" y1="680.2" x2="282.22" y2="682.7" stroke="#8f8f8f" stroke-width="1"/>
<line x1="305.74" y1="680.2" x2="305.74" y2="682.7" stroke="#8f8f8f" stroke-width="1"/>
<line x1="329.26" y1="680.2" x2="329.26" y2="682.7" stroke="#8f8f8f" stroke-width="1"/>
<line x1="352.78" y1="680.2" x2="352.78" y2="682.7" stroke="#8f8f8f" stroke-width="1"/>
<text x="257.6" y="695.8" font-family="'Liberation Serif', serif" font-size="14.2" text-anchor="middle" font-weight="normal" >0</text>
<text x="280.3" y="695.8" font-family="'Liberation Serif', serif" font-size="14.2" text-anchor="middle" font-weight="normal" >12</text>
<text x="303.2" y="695.8" font-family="'Liberation Serif', serif" font-size="14.2" text-anchor="middle" font-weight="normal" >24</text>
<text x="326.7" y="695.8" font-family="'Liberation Serif', serif" font-size="14.2" text-anchor="middle" font-weight="normal" >36</text>
<text x="349.6" y="695.8" font-family="'Liberation Serif', serif" font-size="14.2" text-anchor="middle" font-weight="normal" >48</text>
<polyline points="258.7,633.54 270.46,608.83 282.22,606.54 352.78,656.41" fill="none" stroke="#8a8a8a" stroke-width="1"/>
<polyline points="258.7,633.54 270.46,613.59 282.22,594.78 352.78,609.75" fill="none" stroke="#8a8a8a" stroke-width="1"/>
<polyline points="258.7,633.54 270.46,666.93 282.22,664.19 305.74,662.36 352.78,665.79" fill="none" stroke="#8a8a8a" stroke-width="1"/>
<polyline points="258.7,633.54 270.46,661.63 282.22,672.88 305.74,670.59 352.78,665.79" fill="none" stroke="#8a8a8a" stroke-width="1"/>
<rect x="255.4" y="630.54" width="6.6" height="6" fill="#fff" stroke="#8a8a8a" stroke-width="1"/>
<rect x="267.16" y="605.83" width="6.6" height="6" fill="#fff" stroke="#8a8a8a" stroke-width="1"/>
<rect x="278.92" y="603.54" width="6.6" height="6" fill="#fff" stroke="#8a8a8a" stroke-width="1"/>
<rect x="349.48" y="653.41" width="6.6" height="6" fill="#fff" stroke="#8a8a8a" stroke-width="1"/>
<circle cx="258.7" cy="633.54" r="3.1" fill="#fff" stroke="#8a8a8a" stroke-width="1"/>
<circle cx="270.46" cy="613.59" r="3.1" fill="#fff" stroke="#8a8a8a" stroke-width="1"/>
<circle cx="282.22" cy="594.78" r="3.1" fill="#fff" stroke="#8a8a8a" stroke-width="1"/>
<circle cx="352.78" cy="609.75" r="3.1" fill="#fff" stroke="#8a8a8a" stroke-width="1"/>
<rect x="255.9" y="630.94" width="5.6" height="5.2" fill="#868686" stroke="#5e5e5e" stroke-width="0.9"/>
<rect x="267.66" y="664.33" width="5.6" height="5.2" fill="#868686" stroke="#5e5e5e" stroke-width="0.9"/>
<rect x="279.42" y="661.59" width="5.6" height="5.2" fill="#868686" stroke="#5e5e5e" stroke-width="0.9"/>
<rect x="302.94" y="659.76" width="5.6" height="5.2" fill="#868686" stroke="#5e5e5e" stroke-width="0.9"/>
<rect x="349.98" y="663.19" width="5.6" height="5.2" fill="#868686" stroke="#5e5e5e" stroke-width="0.9"/>
<circle cx="258.7" cy="633.54" r="2.8" fill="#868686" stroke="#5e5e5e" stroke-width="0.9"/>
<circle cx="270.46" cy="661.63" r="2.8" fill="#868686" stroke="#5e5e5e" stroke-width="0.9"/>
<circle cx="282.22" cy="672.88" r="2.8" fill="#868686" stroke="#5e5e5e" stroke-width="0.9"/>
<circle cx="305.74" cy="670.59" r="2.8" fill="#868686" stroke="#5e5e5e" stroke-width="0.9"/>
<circle cx="352.78" cy="665.79" r="2.8" fill="#868686" stroke="#5e5e5e" stroke-width="0.9"/>
<rect x="255.7" y="630.84" width="6" height="5.4" fill="#868686" stroke="#5e5e5e" stroke-width="0.9"/>
<text x="293.4" y="595.9" font-family="'Liberation Serif', serif" font-size="14.4" text-anchor="start" font-weight="normal" >TCM CD4</text>
<line x1="259.2" y1="707.3" x2="259.2" y2="792.8" stroke="#8f8f8f" stroke-width="1"/>
<line x1="256.7" y1="792.8" x2="259.2" y2="792.8" stroke="#8f8f8f" stroke-width="1"/>
<line x1="256.7" y1="778.55" x2="259.2" y2="778.55" stroke="#8f8f8f" stroke-width="1"/>
<line x1="256.7" y1="764.3" x2="259.2" y2="764.3" stroke="#8f8f8f" stroke-width="1"/>
<line x1="256.7" y1="750.05" x2="259.2" y2="750.05" stroke="#8f8f8f" stroke-width="1"/>
<line x1="256.7" y1="735.8" x2="259.2" y2="735.8" stroke="#8f8f8f" stroke-width="1"/>
<line x1="256.7" y1="721.55" x2="259.2" y2="721.55" stroke="#8f8f8f" stroke-width="1"/>
<line x1="256.7" y1="707.3" x2="259.2" y2="707.3" stroke="#8f8f8f" stroke-width="1"/>
<line x1="259.2" y1="792.8" x2="359.6" y2="792.8" stroke="#8f8f8f" stroke-width="1"/>
<line x1="282.72" y1="792.8" x2="282.72" y2="795.3" stroke="#8f8f8f" stroke-width="1"/>
<line x1="306.24" y1="792.8" x2="306.24" y2="795.3" stroke="#8f8f8f" stroke-width="1"/>
<line x1="329.76" y1="792.8" x2="329.76" y2="795.3" stroke="#8f8f8f" stroke-width="1"/>
<line x1="353.28" y1="792.8" x2="353.28" y2="795.3" stroke="#8f8f8f" stroke-width="1"/>
<text x="258.1" y="808.4" font-family="'Liberation Serif', serif" font-size="14.2" text-anchor="middle" font-weight="normal" >0</text>
<text x="280.8" y="808.4" font-family="'Liberation Serif', serif" font-size="14.2" text-anchor="middle" font-weight="normal" >12</text>
<text x="303.7" y="808.4" font-family="'Liberation Serif', serif" font-size="14.2" text-anchor="middle" font-weight="normal" >24</text>
<text x="327.2" y="808.4" font-family="'Liberation Serif', serif" font-size="14.2" text-anchor="middle" font-weight="normal" >36</text>
<text x="350.1" y="808.4" font-family="'Liberation Serif', serif" font-size="14.2" text-anchor="middle" font-weight="normal" >48</text>
<polyline points="259.2,721.98 270.96,751.47 282.72,749.48 353.28,761.59" fill="none" stroke="#8a8a8a" stroke-width="1"/>
<polyline points="259.2,721.98 270.96,715.14 282.72,716.56 353.28,740.5" fill="none" stroke="#8a8a8a" stroke-width="1"/>
<polyline points="259.2,721.98 270.96,777.41 276.84,781.47 306.24,784.61 353.28,767.86" fill="none" stroke="#8a8a8a" stroke-width="1"/>
<polyline points="259.2,721.98 270.96,778.91 282.72,789.66 306.24,789.66 353.28,773.13" fill="none" stroke="#8a8a8a" stroke-width="1"/>
<rect x="255.9" y="718.98" width="6.6" height="6" fill="#fff" stroke="#8a8a8a" stroke-width="1"/>
<rect x="267.66" y="748.47" width="6.6" height="6" fill="#fff" stroke="#8a8a8a" stroke-width="1"/>
<rect x="279.42" y="746.48" width="6.6" height="6" fill="#fff" stroke="#8a8a8a" stroke-width="1"/>
<rect x="349.98" y="758.59" width="6.6" height="6" fill="#fff" stroke="#8a8a8a" stroke-width="1"/>
<circle cx="259.2" cy="721.98" r="3.1" fill="#fff" stroke="#8a8a8a" stroke-width="1"/>
<circle cx="270.96" cy="715.14" r="3.1" fill="#fff" stroke="#8a8a8a" stroke-width="1"/>
<circle cx="282.72" cy="716.56" r="3.1" fill="#fff" stroke="#8a8a8a" stroke-width="1"/>
<circle cx="353.28" cy="740.5" r="3.1" fill="#fff" stroke="#8a8a8a" stroke-width="1"/>
<rect x="256.4" y="719.38" width="5.6" height="5.2" fill="#868686" stroke="#5e5e5e" stroke-width="0.9"/>
<rect x="268.16" y="774.81" width="5.6" height="5.2" fill="#868686" stroke="#5e5e5e" stroke-width="0.9"/>
<rect x="274.04" y="778.87" width="5.6" height="5.2" fill="#868686" stroke="#5e5e5e" stroke-width="0.9"/>
<rect x="303.44" y="782.01" width="5.6" height="5.2" fill="#868686" stroke="#5e5e5e" stroke-width="0.9"/>
<rect x="350.48" y="765.26" width="5.6" height="5.2" fill="#868686" stroke="#5e5e5e" stroke-width="0.9"/>
<circle cx="259.2" cy="721.98" r="2.8" fill="#868686" stroke="#5e5e5e" stroke-width="0.9"/>
<circle cx="270.96" cy="778.91" r="2.8" fill="#868686" stroke="#5e5e5e" stroke-width="0.9"/>
<circle cx="282.72" cy="789.66" r="2.8" fill="#868686" stroke="#5e5e5e" stroke-width="0.9"/>
<circle cx="306.24" cy="789.66" r="2.8" fill="#868686" stroke="#5e5e5e" stroke-width="0.9"/>
<circle cx="353.28" cy="773.13" r="2.8" fill="#868686" stroke="#5e5e5e" stroke-width="0.9"/>
<rect x="256.2" y="719.28" width="6" height="5.4" fill="#868686" stroke="#5e5e5e" stroke-width="0.9"/>
<text x="292.8" y="718.7" font-family="'Liberation Serif', serif" font-size="14.4" text-anchor="start" font-weight="normal" >TCM CD8</text>
<line x1="410.7" y1="593.7" x2="410.7" y2="679.8" stroke="#8f8f8f" stroke-width="1"/>
<line x1="408.2" y1="679.8" x2="410.7" y2="679.8" stroke="#8f8f8f" stroke-width="1"/>
<text x="404" y="684.9" font-family="'Liberation Serif', serif" font-size="14.4" text-anchor="end" font-weight="normal" >0</text>
<line x1="408.2" y1="665.45" x2="410.7" y2="665.45" stroke="#8f8f8f" stroke-width="1"/>
<line x1="408.2" y1="651.1" x2="410.7" y2="651.1" stroke="#8f8f8f" stroke-width="1"/>
<text x="404" y="656.2" font-family="'Liberation Serif', serif" font-size="14.4" text-anchor="end" font-weight="normal" >40</text>
<line x1="408.2" y1="636.75" x2="410.7" y2="636.75" stroke="#8f8f8f" stroke-width="1"/>
<line x1="408.2" y1="622.4" x2="410.7" y2="622.4" stroke="#8f8f8f" stroke-width="1"/>
<text x="404" y="627.5" font-family="'Liberation Serif', serif" font-size="14.4" text-anchor="end" font-weight="normal" >80</text>
<line x1="408.2" y1="608.05" x2="410.7" y2="608.05" stroke="#8f8f8f" stroke-width="1"/>
<line x1="408.2" y1="593.7" x2="410.7" y2="593.7" stroke="#8f8f8f" stroke-width="1"/>
<text x="404" y="598.8" font-family="'Liberation Serif', serif" font-size="14.4" text-anchor="end" font-weight="normal" >120</text>
<line x1="410.7" y1="679.8" x2="511.9" y2="679.8" stroke="#8f8f8f" stroke-width="1"/>
<line x1="434.22" y1="679.8" x2="434.22" y2="682.3" stroke="#8f8f8f" stroke-width="1"/>
<line x1="457.74" y1="679.8" x2="457.74" y2="682.3" stroke="#8f8f8f" stroke-width="1"/>
<line x1="481.26" y1="679.8" x2="481.26" y2="682.3" stroke="#8f8f8f" stroke-width="1"/>
<line x1="504.78" y1="679.8" x2="504.78" y2="682.3" stroke="#8f8f8f" stroke-width="1"/>
<text x="409.6" y="695.4" font-family="'Liberation Serif', serif" font-size="14.2" text-anchor="middle" font-weight="normal" >0</text>
<text x="432.3" y="695.4" font-family="'Liberation Serif', serif" font-size="14.2" text-anchor="middle" font-weight="normal" >12</text>
<text x="455.2" y="695.4" font-family="'Liberation Serif', serif" font-size="14.2" text-anchor="middle" font-weight="normal" >24</text>
<text x="478.7" y="695.4" font-family="'Liberation Serif', serif" font-size="14.2" text-anchor="middle" font-weight="normal" >36</text>
<text x="501.6" y="695.4" font-family="'Liberation Serif', serif" font-size="14.2" text-anchor="middle" font-weight="normal" >48</text>
<polyline points="410.7,608.34 422.46,636.03 434.22,623.83 504.78,619.53" fill="none" stroke="#8a8a8a" stroke-width="1"/>
<polyline points="410.7,608.34 422.46,615.22 434.22,623.83 504.78,634.6" fill="none" stroke="#8a8a8a" stroke-width="1"/>
<polyline points="410.7,608.34 422.46,660.93 434.22,663.3 457.74,669.04 504.78,644.21" fill="none" stroke="#8a8a8a" stroke-width="1"/>
<polyline points="410.7,608.34 422.46,666.17 434.22,666.17 457.74,662.22 504.78,646.08" fill="none" stroke="#8a8a8a" stroke-width="1"/>
<rect x="407.4" y="605.34" width="6.6" height="6" fill="#fff" stroke="#8a8a8a" stroke-width="1"/>
<rect x="419.16" y="633.03" width="6.6" height="6" fill="#fff" stroke="#8a8a8a" stroke-width="1"/>
<rect x="430.92" y="620.83" width="6.6" height="6" fill="#fff" stroke="#8a8a8a" stroke-width="1"/>
<rect x="501.48" y="616.53" width="6.6" height="6" fill="#fff" stroke="#8a8a8a" stroke-width="1"/>
<circle cx="410.7" cy="608.34" r="3.1" fill="#fff" stroke="#8a8a8a" stroke-width="1"/>
<circle cx="422.46" cy="615.22" r="3.1" fill="#fff" stroke="#8a8a8a" stroke-width="1"/>
<circle cx="434.22" cy="623.83" r="3.1" fill="#fff" stroke="#8a8a8a" stroke-width="1"/>
<circle cx="504.78" cy="634.6" r="3.1" fill="#fff" stroke="#8a8a8a" stroke-width="1"/>
<rect x="407.9" y="605.74" width="5.6" height="5.2" fill="#868686" stroke="#5e5e5e" stroke-width="0.9"/>
<rect x="419.66" y="658.33" width="5.6" height="5.2" fill="#868686" stroke="#5e5e5e" stroke-width="0.9"/>
<rect x="431.42" y="660.7" width="5.6" height="5.2" fill="#868686" stroke="#5e5e5e" stroke-width="0.9"/>
<rect x="454.94" y="666.44" width="5.6" height="5.2" fill="#868686" stroke="#5e5e5e" stroke-width="0.9"/>
<rect x="501.98" y="641.61" width="5.6" height="5.2" fill="#868686" stroke="#5e5e5e" stroke-width="0.9"/>
<circle cx="410.7" cy="608.34" r="2.8" fill="#868686" stroke="#5e5e5e" stroke-width="0.9"/>
<circle cx="422.46" cy="666.17" r="2.8" fill="#868686" stroke="#5e5e5e" stroke-width="0.9"/>
<circle cx="434.22" cy="666.17" r="2.8" fill="#868686" stroke="#5e5e5e" stroke-width="0.9"/>
<circle cx="457.74" cy="662.22" r="2.8" fill="#868686" stroke="#5e5e5e" stroke-width="0.9"/>
<circle cx="504.78" cy="646.08" r="2.8" fill="#868686" stroke="#5e5e5e" stroke-width="0.9"/>
<rect x="407.7" y="605.64" width="6" height="5.4" fill="#868686" stroke="#5e5e5e" stroke-width="0.9"/>
<text x="434.6" y="602.7" font-family="'Liberation Serif', serif" font-size="14.2" text-anchor="start" font-weight="normal" >TEM CD4</text>
<line x1="410.4" y1="705.8" x2="410.4" y2="792.2" stroke="#8f8f8f" stroke-width="1"/>
<line x1="407.9" y1="792.2" x2="410.4" y2="792.2" stroke="#8f8f8f" stroke-width="1"/>
<line x1="407.9" y1="777.8" x2="410.4" y2="777.8" stroke="#8f8f8f" stroke-width="1"/>
<line x1="407.9" y1="763.4" x2="410.4" y2="763.4" stroke="#8f8f8f" stroke-width="1"/>
<line x1="407.9" y1="749" x2="410.4" y2="749" stroke="#8f8f8f" stroke-width="1"/>
<line x1="407.9" y1="734.6" x2="410.4" y2="734.6" stroke="#8f8f8f" stroke-width="1"/>
<line x1="407.9" y1="720.2" x2="410.4" y2="720.2" stroke="#8f8f8f" stroke-width="1"/>
<line x1="407.9" y1="705.8" x2="410.4" y2="705.8" stroke="#8f8f8f" stroke-width="1"/>
<line x1="410.4" y1="792.2" x2="511.9" y2="792.2" stroke="#8f8f8f" stroke-width="1"/>
<line x1="433.92" y1="792.2" x2="433.92" y2="794.7" stroke="#8f8f8f" stroke-width="1"/>
<line x1="457.44" y1="792.2" x2="457.44" y2="794.7" stroke="#8f8f8f" stroke-width="1"/>
<line x1="480.96" y1="792.2" x2="480.96" y2="794.7" stroke="#8f8f8f" stroke-width="1"/>
<line x1="504.48" y1="792.2" x2="504.48" y2="794.7" stroke="#8f8f8f" stroke-width="1"/>
<text x="409.3" y="807.8" font-family="'Liberation Serif', serif" font-size="14.2" text-anchor="middle" font-weight="normal" >0</text>
<text x="432" y="807.8" font-family="'Liberation Serif', serif" font-size="14.2" text-anchor="middle" font-weight="normal" >12</text>
<text x="454.9" y="807.8" font-family="'Liberation Serif', serif" font-size="14.2" text-anchor="middle" font-weight="normal" >24</text>
<text x="478.4" y="807.8" font-family="'Liberation Serif', serif" font-size="14.2" text-anchor="middle" font-weight="normal" >36</text>
<text x="501.3" y="807.8" font-family="'Liberation Serif', serif" font-size="14.2" text-anchor="middle" font-weight="normal" >48</text>
<polyline points="410.4,721.21 422.16,739.64 433.92,703.28 504.48,721.21" fill="none" stroke="#8a8a8a" stroke-width="1"/>
<polyline points="410.4,721.21 422.16,737.48 433.92,701.12 504.48,701.12" fill="none" stroke="#8a8a8a" stroke-width="1"/>
<polyline points="410.4,721.21 422.16,746.12 428.04,756.49 457.44,756.49 504.48,782.84" fill="none" stroke="#8a8a8a" stroke-width="1"/>
<polyline points="410.4,721.21 422.16,767.72 433.92,757.64 457.44,756.49 504.48,779.96" fill="none" stroke="#8a8a8a" stroke-width="1"/>
<rect x="407.1" y="718.21" width="6.6" height="6" fill="#fff" stroke="#8a8a8a" stroke-width="1"/>
<rect x="418.86" y="736.64" width="6.6" height="6" fill="#fff" stroke="#8a8a8a" stroke-width="1"/>
<rect x="430.62" y="700.28" width="6.6" height="6" fill="#fff" stroke="#8a8a8a" stroke-width="1"/>
<rect x="501.18" y="718.21" width="6.6" height="6" fill="#fff" stroke="#8a8a8a" stroke-width="1"/>
<circle cx="410.4" cy="721.21" r="3.1" fill="#fff" stroke="#8a8a8a" stroke-width="1"/>
<circle cx="422.16" cy="737.48" r="3.1" fill="#fff" stroke="#8a8a8a" stroke-width="1"/>
<circle cx="433.92" cy="701.12" r="3.1" fill="#fff" stroke="#8a8a8a" stroke-width="1"/>
<circle cx="504.48" cy="701.12" r="3.1" fill="#fff" stroke="#8a8a8a" stroke-width="1"/>
<rect x="407.6" y="718.61" width="5.6" height="5.2" fill="#868686" stroke="#5e5e5e" stroke-width="0.9"/>
<rect x="419.36" y="743.52" width="5.6" height="5.2" fill="#868686" stroke="#5e5e5e" stroke-width="0.9"/>
<rect x="425.24" y="753.89" width="5.6" height="5.2" fill="#868686" stroke="#5e5e5e" stroke-width="0.9"/>
<rect x="454.64" y="753.89" width="5.6" height="5.2" fill="#868686" stroke="#5e5e5e" stroke-width="0.9"/>
<rect x="501.68" y="780.24" width="5.6" height="5.2" fill="#868686" stroke="#5e5e5e" stroke-width="0.9"/>
<circle cx="410.4" cy="721.21" r="2.8" fill="#868686" stroke="#5e5e5e" stroke-width="0.9"/>
<circle cx="422.16" cy="767.72" r="2.8" fill="#868686" stroke="#5e5e5e" stroke-width="0.9"/>
<circle cx="433.92" cy="757.64" r="2.8" fill="#868686" stroke="#5e5e5e" stroke-width="0.9"/>
<circle cx="457.44" cy="756.49" r="2.8" fill="#868686" stroke="#5e5e5e" stroke-width="0.9"/>
<circle cx="504.48" cy="779.96" r="2.8" fill="#868686" stroke="#5e5e5e" stroke-width="0.9"/>
<rect x="407.4" y="718.51" width="6" height="5.4" fill="#868686" stroke="#5e5e5e" stroke-width="0.9"/>
<text x="434.2" y="738.5" font-family="'Liberation Serif', serif" font-size="14.2" text-anchor="start" font-weight="normal" >TEM CD8</text>
<text transform="translate(50.3,71.4) rotate(-90)" font-family="'Liberation Serif', serif" font-size="14.9" text-anchor="middle">Lymphocyte counts</text>
<text transform="translate(66,73.6) rotate(-90)" font-family="'Liberation Serif', serif" font-size="14.9" text-anchor="middle">(% from baseline)</text>
<text transform="translate(49.3,210.6) rotate(-90)" font-family="'Liberation Serif', serif" font-size="14.8" text-anchor="middle">CD4 T cell counts</text>
<text transform="translate(66.1,210.6) rotate(-90)" font-family="'Liberation Serif', serif" font-size="14.8" text-anchor="middle">(% from baseline)</text>
<text transform="translate(46.5,344.3) rotate(-90)" font-family="'Liberation Serif', serif" font-size="14.8" text-anchor="middle">CD8 T cell counts</text>
<text transform="translate(64,344.3) rotate(-90)" font-family="'Liberation Serif', serif" font-size="14.8" text-anchor="middle">(% from baseline)</text>
<text transform="translate(46.7,483.1) rotate(-90)" font-family="'Liberation Serif', serif" font-size="14.6" text-anchor="middle">CD20+ cell counts</text>
<text transform="translate(64.4,484) rotate(-90)" font-family="'Liberation Serif', serif" font-size="14.6" text-anchor="middle">(% from baseline)</text>
<text transform="translate(47,698.4) rotate(-90)" font-family="'Liberation Serif', serif" font-size="14.6" text-anchor="middle">T cell counts</text>
<text transform="translate(62.6,696.5) rotate(-90)" font-family="'Liberation Serif', serif" font-size="14.6" text-anchor="middle">(% from baseline)</text>
<text x="254" y="834" font-family="'Liberation Serif', serif" font-size="14.6" text-anchor="start" font-weight="normal" >Hours after treatment</text>
</svg></body></html>
